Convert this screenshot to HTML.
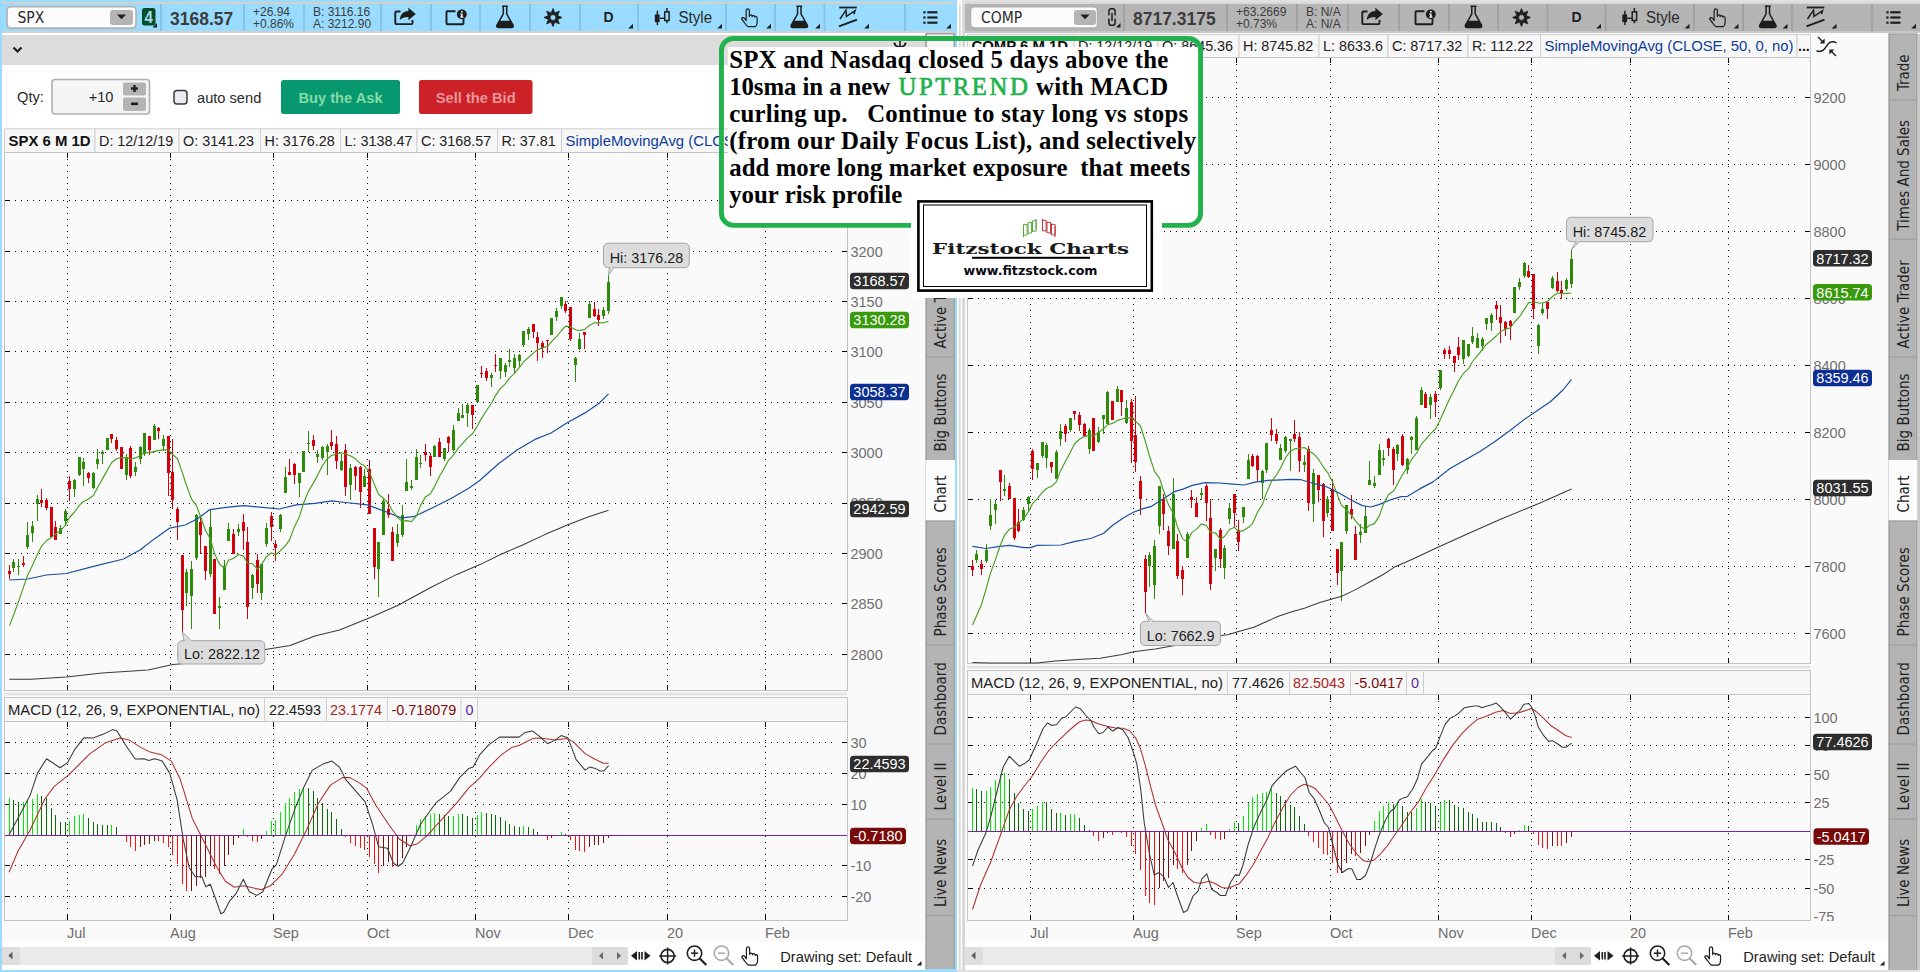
<!DOCTYPE html>
<html lang="en"><head><meta charset="utf-8"><title>SPX and COMP charts</title>
<style>
html,body{margin:0;padding:0;background:#fff;}
body{width:1920px;height:972px;overflow:hidden;}
svg{display:block;font-family:'Liberation Sans', Arial, sans-serif;}
</style></head><body>
<svg width="1920" height="972" viewBox="0 0 1920 972">
<rect x="0" y="0" width="1920" height="972" fill="#ffffff" />
<rect x="0" y="0" width="957" height="972" fill="#99dcff" />
<rect x="2" y="4" width="953" height="965" fill="#ffffff" />
<rect x="2" y="2" width="953" height="2" fill="#d4d0cc" />
<rect x="957" y="0" width="963" height="972" fill="#e1e1e1" />
<rect x="957" y="0" width="5" height="972" fill="#fbfbfb" />
<rect x="959" y="4" width="1.7" height="968" fill="#d9d9d9" />
<rect x="963" y="4" width="2" height="968" fill="#d6d6d6" />
<rect x="965" y="8" width="955" height="964" fill="#fafafa" />
<rect x="2" y="4" width="953" height="27" fill="#99dcff" />
<rect x="160" y="4" width="2" height="27" fill="#85c4e8" />
<rect x="243" y="4" width="2" height="27" fill="#85c4e8" />
<rect x="303" y="4" width="2" height="27" fill="#85c4e8" />
<rect x="380" y="4" width="2" height="27" fill="#85c4e8" />
<rect x="430" y="4" width="2" height="27" fill="#85c4e8" />
<rect x="479" y="4" width="2" height="27" fill="#85c4e8" />
<rect x="529" y="4" width="2" height="27" fill="#85c4e8" />
<rect x="579" y="4" width="2" height="27" fill="#85c4e8" />
<rect x="637" y="4" width="2" height="27" fill="#85c4e8" />
<rect x="725" y="4" width="2" height="27" fill="#85c4e8" />
<rect x="774" y="4" width="2" height="27" fill="#85c4e8" />
<rect x="823.5" y="4" width="2" height="27" fill="#85c4e8" />
<rect x="904" y="4" width="2" height="27" fill="#85c4e8" />
<rect x="7" y="6.7" width="129" height="21.4" rx="4" fill="#fcfcfc" stroke="#b2b0ae" stroke-width="1.6"/>
<rect x="110" y="10" width="23" height="15" rx="3" fill="#b4b4b4"/>
<path d="M116.9,14.6 h9.2 l-4.6,4.6 z" fill="#1e1e1e" stroke="none" stroke-width="1" />
<text x="17.5" y="23" font-size="15.5" fill="#2a2a2a" text-anchor="start" font-weight="normal" font-family="'DejaVu Sans Condensed', 'DejaVu Sans', 'Liberation Sans', sans-serif" >SPX</text>
<text x="170" y="25" font-size="18.5" fill="#3c3c3c" text-anchor="start" font-weight="bold"  textLength="63.2" lengthAdjust="spacingAndGlyphs">3168.57</text>
<text x="253" y="16" font-size="12" fill="#3c3c3c" text-anchor="start" font-weight="normal" >+26.94</text>
<text x="253" y="28" font-size="12" fill="#3c3c3c" text-anchor="start" font-weight="normal" >+0.86%</text>
<text x="313" y="16" font-size="12" fill="#3c3c3c" text-anchor="start" font-weight="normal" >B: 3116.16</text>
<text x="313" y="28" font-size="12" fill="#3c3c3c" text-anchor="start" font-weight="normal" >A: 3212.90</text>
<path d="M400.5,11.5 h-4.2 q-1,0 -1,1 v10.6 q0,1 1,1 h15.2 q1,0 1,-1 v-3.2" fill="none" stroke="#1e1e1e" stroke-width="1.9" stroke-linejoin="round"/>
<path d="M399.8,20.1 c0.4,-6.2 4.2,-9 8.6,-9 v-3.4 l7.4,6.3 l-7.4,6.3 v-3.4 c-4,0 -6.6,0.8 -8.6,3.2 z" fill="#1e1e1e" stroke="none" stroke-width="1" />
<path d="M455.5,11.3 h-8 q-1,0 -1,1 v11 q0,1 1,1 h15 q1,0 1,-1 v-5" fill="none" stroke="#1e1e1e" stroke-width="1.9" />
<circle cx="461.8" cy="14.3" r="4.9" fill="#1e1e1e"/>
<rect x="461.1" y="13.6" width="1.5" height="3.8" fill="#fff" />
<rect x="461.1" y="11.0" width="1.5" height="1.5" fill="#fff" />
<rect x="460.2" y="13.6" width="1" height="1" fill="#fff" />
<rect x="460.2" y="16.6" width="3.3" height="1" fill="#fff" />
<path d="M502,6.300000000000001 h6 M503.3,6.5 v7.4 l-6.3,11.2 q-1,2.4 1.8,2.4 h12.4 q2.8,0 1.8,-2.4 l-6.3,-11.2 v-7.4" fill="none" stroke="#1e1e1e" stroke-width="1.5" stroke-linejoin="round"/>
<path d="M499.4,20.8 h11.2 l2.6,4.6 q1,2.4 -1.8,2.4 h-12.8 q-2.8,0 -1.8,-2.4 z" fill="#1e1e1e" stroke="none" stroke-width="1" />
<path d="M557.62,19.41 L559.36,23.86 L554.91,22.12 L553.00,26.50 L551.09,22.12 L546.64,23.86 L548.38,19.41 L544.00,17.50 L548.38,15.59 L546.64,11.14 L551.09,12.88 L553.00,8.50 L554.91,12.88 L559.36,11.14 L557.62,15.59 L562.00,17.50 z M555.9,17.5 a2.9,2.9 0 1,0 -5.8,0 a2.9,2.9 0 1,0 5.8,0 z" fill="#1e1e1e" fill-rule="evenodd" stroke="#1e1e1e" stroke-width="0.8" stroke-linejoin="round"/>
<text x="608.5" y="22" font-size="14" fill="#1e1e1e" text-anchor="middle" font-weight="bold"  textLength="10.1" lengthAdjust="spacingAndGlyphs">D</text>
<rect x="654.8" y="14.5" width="4.8" height="7.6" fill="#1e1e1e" />
<line x1="657.4" y1="10.7" x2="657.4" y2="25.1" stroke="#1e1e1e" stroke-width="1.5" />
<line x1="659.6" y1="18.3" x2="664.6" y2="18.3" stroke="#1e1e1e" stroke-width="1.4" />
<rect x="664.7" y="11.9" width="4.4" height="8.6" fill="none" stroke="#1e1e1e" stroke-width="1.5"/>
<line x1="666.9" y1="7.9" x2="666.9" y2="11.9" stroke="#1e1e1e" stroke-width="1.5" />
<line x1="666.9" y1="20.5" x2="666.9" y2="23.3" stroke="#1e1e1e" stroke-width="1.5" />
<text x="678.5" y="23" font-size="16" fill="#2a2a2a" text-anchor="start" font-weight="normal"  textLength="33.6" lengthAdjust="spacingAndGlyphs">Style</text>
<path transform="translate(748.5,17.8) scale(0.94)" d="M-2.5,3 V-7.5 Q-2.5,-9.5 -0.8,-9.5 Q0.9,-9.5 0.9,-7.5 V-1.5 Q0.9,-3 2.4,-3 Q3.9,-3 3.9,-1.2 Q3.9,-2.4 5.3,-2.4 Q6.8,-2.4 6.8,-0.6 Q6.9,-1.6 8,-1.4 Q9.2,-1.2 9.2,0.6 V5 Q9.2,8 7.2,9.5 H-0.5 Q-2.5,8 -4.5,5 L-7,1.8 Q-7.8,0.4 -6.4,-0.2 Q-5.2,-0.6 -4.2,0.6 Z" fill="none" stroke="#1e1e1e" stroke-width="1.3" stroke-linejoin="round"/>
<path d="M796.3,6.300000000000001 h6 M797.5999999999999,6.5 v7.4 l-6.3,11.2 q-1,2.4 1.8,2.4 h12.4 q2.8,0 1.8,-2.4 l-6.3,-11.2 v-7.4" fill="none" stroke="#1e1e1e" stroke-width="1.5" stroke-linejoin="round"/>
<path d="M793.6999999999999,20.8 h11.2 l2.6,4.6 q1,2.4 -1.8,2.4 h-12.8 q-2.8,0 -1.8,-2.4 z" fill="#1e1e1e" stroke="none" stroke-width="1" />
<line x1="839.2" y1="7.5" x2="856.8" y2="7.5" stroke="#1e1e1e" stroke-width="1.8" />
<path d="M840,19.0 L846,10.2 L846.4,16.3 L855,10.7 L854,14.3" fill="none" stroke="#1e1e1e" stroke-width="1.5" stroke-linejoin="miter"/>
<line x1="839" y1="26.4" x2="857" y2="19.6" stroke="#1e1e1e" stroke-width="2" />
<rect x="923.3" y="11.200000000000001" width="2.3" height="2.2" fill="#1e1e1e" />
<rect x="927.3" y="11.200000000000001" width="10.2" height="2.2" fill="#1e1e1e" />
<rect x="923.3" y="16.4" width="2.3" height="2.2" fill="#1e1e1e" />
<rect x="927.3" y="16.4" width="10.2" height="2.2" fill="#1e1e1e" />
<rect x="923.3" y="21.599999999999998" width="2.3" height="2.2" fill="#1e1e1e" />
<rect x="927.3" y="21.599999999999998" width="10.2" height="2.2" fill="#1e1e1e" />
<rect x="142" y="8" width="13.5" height="17.5" rx="2.5" fill="#004d26"/>
<text x="148.8" y="23" font-size="16" fill="#a9d9ee" text-anchor="middle" font-weight="bold"  textLength="8.4" lengthAdjust="spacingAndGlyphs">4</text>
<path d="M157,27.5 v-4.5 l-4.5,4.5 z" fill="#1e1e1e" stroke="none" stroke-width="1" />
<path d="M633,28.5 v-4.8 l-4.8,4.8 z" fill="#1e1e1e" stroke="none" stroke-width="1" />
<path d="M722,28.5 v-4.8 l-4.8,4.8 z" fill="#1e1e1e" stroke="none" stroke-width="1" />
<path d="M771,28.5 v-4.8 l-4.8,4.8 z" fill="#1e1e1e" stroke="none" stroke-width="1" />
<path d="M820,28.5 v-4.8 l-4.8,4.8 z" fill="#1e1e1e" stroke="none" stroke-width="1" />
<path d="M869,28.5 v-4.8 l-4.8,4.8 z" fill="#1e1e1e" stroke="none" stroke-width="1" />
<path d="M951,28.5 v-4.8 l-4.8,4.8 z" fill="#1e1e1e" stroke="none" stroke-width="1" />
<rect x="2" y="31" width="953" height="2" fill="#d4d0cc" />
<rect x="2" y="33" width="953" height="2" fill="#ffffff" />
<rect x="2" y="35" width="953" height="30" fill="#dcdcdc" />
<path d="M13.5,47.5 l4,4 l4,-4" fill="none" stroke="#1e1e1e" stroke-width="2.2" />
<line x1="900" y1="37" x2="900" y2="47" stroke="#1e1e1e" stroke-width="1.6" />
<path d="M894.2,43.3 q1.2,3.6 5.8,3.6 q4.6,0 5.8,-3.6" fill="none" stroke="#1e1e1e" stroke-width="1.8" />
<path d="M893.5,42.6 l2.6,0.4 l-1.6,2.2 z M906.5,42.6 l-2.6,0.4 l1.6,2.2 z" fill="#1e1e1e" stroke="none" stroke-width="1" />
<rect x="965" y="2" width="955" height="2" fill="#d9d9d9" />
<rect x="965" y="4" width="955" height="27" fill="#b5b5b5" />
<rect x="1123" y="4" width="2" height="27" fill="#a2a2a2" />
<rect x="1226" y="4" width="2" height="27" fill="#a2a2a2" />
<rect x="1296" y="4" width="2" height="27" fill="#a2a2a2" />
<rect x="1347" y="4" width="2" height="27" fill="#a2a2a2" />
<rect x="1398" y="4" width="2" height="27" fill="#a2a2a2" />
<rect x="1448" y="4" width="2" height="27" fill="#a2a2a2" />
<rect x="1497" y="4" width="2" height="27" fill="#a2a2a2" />
<rect x="1546.5" y="4" width="2" height="27" fill="#a2a2a2" />
<rect x="1604.5" y="4" width="2" height="27" fill="#a2a2a2" />
<rect x="1693" y="4" width="2" height="27" fill="#a2a2a2" />
<rect x="1742" y="4" width="2" height="27" fill="#a2a2a2" />
<rect x="1791" y="4" width="2" height="27" fill="#a2a2a2" />
<rect x="1871" y="4" width="2" height="27" fill="#a2a2a2" />
<rect x="970.5" y="6.7" width="127.0" height="21.4" rx="4" fill="#fcfcfc" stroke="#b2b0ae" stroke-width="1.6"/>
<rect x="1074" y="10" width="22" height="15" rx="3" fill="#b4b4b4"/>
<path d="M1080.4,14.6 h9.2 l-4.6,4.6 z" fill="#1e1e1e" stroke="none" stroke-width="1" />
<text x="981.0" y="23" font-size="15.5" fill="#2a2a2a" text-anchor="start" font-weight="normal" font-family="'DejaVu Sans Condensed', 'DejaVu Sans', 'Liberation Sans', sans-serif" >COMP</text>
<text x="1133" y="25" font-size="18.5" fill="#3c3c3c" text-anchor="start" font-weight="bold"  textLength="82.6" lengthAdjust="spacingAndGlyphs">8717.3175</text>
<text x="1236" y="16" font-size="12" fill="#3c3c3c" text-anchor="start" font-weight="normal" >+63.2669</text>
<text x="1236" y="28" font-size="12" fill="#3c3c3c" text-anchor="start" font-weight="normal" >+0.73%</text>
<text x="1306" y="16" font-size="12" fill="#3c3c3c" text-anchor="start" font-weight="normal" >B: N/A</text>
<text x="1306" y="28" font-size="12" fill="#3c3c3c" text-anchor="start" font-weight="normal" >A: N/A</text>
<path d="M1367.5,11.5 h-4.2 q-1,0 -1,1 v10.6 q0,1 1,1 h15.2 q1,0 1,-1 v-3.2" fill="none" stroke="#1e1e1e" stroke-width="1.9" stroke-linejoin="round"/>
<path d="M1366.8,20.1 c0.4,-6.2 4.2,-9 8.6,-9 v-3.4 l7.4,6.3 l-7.4,6.3 v-3.4 c-4,0 -6.6,0.8 -8.6,3.2 z" fill="#1e1e1e" stroke="none" stroke-width="1" />
<path d="M1424.5,11.3 h-8 q-1,0 -1,1 v11 q0,1 1,1 h15 q1,0 1,-1 v-5" fill="none" stroke="#1e1e1e" stroke-width="1.9" />
<circle cx="1430.8" cy="14.3" r="4.9" fill="#1e1e1e"/>
<rect x="1430.1" y="13.6" width="1.5" height="3.8" fill="#fff" />
<rect x="1430.1" y="11.0" width="1.5" height="1.5" fill="#fff" />
<rect x="1429.2" y="13.6" width="1" height="1" fill="#fff" />
<rect x="1429.2" y="16.6" width="3.3" height="1" fill="#fff" />
<path d="M1470.5,6.300000000000001 h6 M1471.8,6.5 v7.4 l-6.3,11.2 q-1,2.4 1.8,2.4 h12.4 q2.8,0 1.8,-2.4 l-6.3,-11.2 v-7.4" fill="none" stroke="#1e1e1e" stroke-width="1.5" stroke-linejoin="round"/>
<path d="M1467.9,20.8 h11.2 l2.6,4.6 q1,2.4 -1.8,2.4 h-12.8 q-2.8,0 -1.8,-2.4 z" fill="#1e1e1e" stroke="none" stroke-width="1" />
<path d="M1526.12,19.41 L1527.86,23.86 L1523.41,22.12 L1521.50,26.50 L1519.59,22.12 L1515.14,23.86 L1516.88,19.41 L1512.50,17.50 L1516.88,15.59 L1515.14,11.14 L1519.59,12.88 L1521.50,8.50 L1523.41,12.88 L1527.86,11.14 L1526.12,15.59 L1530.50,17.50 z M1524.4,17.5 a2.9,2.9 0 1,0 -5.8,0 a2.9,2.9 0 1,0 5.8,0 z" fill="#1e1e1e" fill-rule="evenodd" stroke="#1e1e1e" stroke-width="0.8" stroke-linejoin="round"/>
<text x="1576.5" y="22" font-size="14" fill="#1e1e1e" text-anchor="middle" font-weight="bold"  textLength="10.1" lengthAdjust="spacingAndGlyphs">D</text>
<rect x="1622.3" y="14.5" width="4.8" height="7.6" fill="#1e1e1e" />
<line x1="1624.9" y1="10.7" x2="1624.9" y2="25.1" stroke="#1e1e1e" stroke-width="1.5" />
<line x1="1627.1" y1="18.3" x2="1632.1" y2="18.3" stroke="#1e1e1e" stroke-width="1.4" />
<rect x="1632.2" y="11.9" width="4.4" height="8.6" fill="none" stroke="#1e1e1e" stroke-width="1.5"/>
<line x1="1634.4" y1="7.9" x2="1634.4" y2="11.9" stroke="#1e1e1e" stroke-width="1.5" />
<line x1="1634.4" y1="20.5" x2="1634.4" y2="23.3" stroke="#1e1e1e" stroke-width="1.5" />
<text x="1646.0" y="23" font-size="16" fill="#2a2a2a" text-anchor="start" font-weight="normal"  textLength="33.6" lengthAdjust="spacingAndGlyphs">Style</text>
<path transform="translate(1716.5,17.8) scale(0.94)" d="M-2.5,3 V-7.5 Q-2.5,-9.5 -0.8,-9.5 Q0.9,-9.5 0.9,-7.5 V-1.5 Q0.9,-3 2.4,-3 Q3.9,-3 3.9,-1.2 Q3.9,-2.4 5.3,-2.4 Q6.8,-2.4 6.8,-0.6 Q6.9,-1.6 8,-1.4 Q9.2,-1.2 9.2,0.6 V5 Q9.2,8 7.2,9.5 H-0.5 Q-2.5,8 -4.5,5 L-7,1.8 Q-7.8,0.4 -6.4,-0.2 Q-5.2,-0.6 -4.2,0.6 Z" fill="none" stroke="#1e1e1e" stroke-width="1.3" stroke-linejoin="round"/>
<path d="M1764.8,6.300000000000001 h6 M1766.1,6.5 v7.4 l-6.3,11.2 q-1,2.4 1.8,2.4 h12.4 q2.8,0 1.8,-2.4 l-6.3,-11.2 v-7.4" fill="none" stroke="#1e1e1e" stroke-width="1.5" stroke-linejoin="round"/>
<path d="M1762.2,20.8 h11.2 l2.6,4.6 q1,2.4 -1.8,2.4 h-12.8 q-2.8,0 -1.8,-2.4 z" fill="#1e1e1e" stroke="none" stroke-width="1" />
<line x1="1806.7" y1="7.5" x2="1824.3" y2="7.5" stroke="#1e1e1e" stroke-width="1.8" />
<path d="M1807.5,19.0 L1813.5,10.2 L1813.9,16.3 L1822.5,10.7 L1821.5,14.3" fill="none" stroke="#1e1e1e" stroke-width="1.5" stroke-linejoin="miter"/>
<line x1="1806.5" y1="26.4" x2="1824.5" y2="19.6" stroke="#1e1e1e" stroke-width="2" />
<rect x="1886.3" y="11.200000000000001" width="2.3" height="2.2" fill="#1e1e1e" />
<rect x="1890.3" y="11.200000000000001" width="10.2" height="2.2" fill="#1e1e1e" />
<rect x="1886.3" y="16.4" width="2.3" height="2.2" fill="#1e1e1e" />
<rect x="1890.3" y="16.4" width="10.2" height="2.2" fill="#1e1e1e" />
<rect x="1886.3" y="21.599999999999998" width="2.3" height="2.2" fill="#1e1e1e" />
<rect x="1890.3" y="21.599999999999998" width="10.2" height="2.2" fill="#1e1e1e" />
<rect x="1108.9" y="8.7" width="6.2" height="16.6" rx="2.6" fill="none" stroke="#1e1e1e" stroke-width="1.5"/>
<rect x="1107.5" y="15.4" width="2.6" height="3.2" fill="#b5b5b5" />
<rect x="1113.9" y="15.4" width="2.6" height="3.2" fill="#b5b5b5" />
<line x1="1112" y1="13" x2="1112" y2="21" stroke="#1e1e1e" stroke-width="1.5" />
<path d="M1120.5,27.5 v-4.5 l-4.5,4.5 z" fill="#1e1e1e" stroke="none" stroke-width="1" />
<path d="M1601,28.5 v-4.8 l-4.8,4.8 z" fill="#1e1e1e" stroke="none" stroke-width="1" />
<path d="M1689.5,28.5 v-4.8 l-4.8,4.8 z" fill="#1e1e1e" stroke="none" stroke-width="1" />
<path d="M1738.5,28.5 v-4.8 l-4.8,4.8 z" fill="#1e1e1e" stroke="none" stroke-width="1" />
<path d="M1787.5,28.5 v-4.8 l-4.8,4.8 z" fill="#1e1e1e" stroke="none" stroke-width="1" />
<path d="M1836.5,28.5 v-4.8 l-4.8,4.8 z" fill="#1e1e1e" stroke="none" stroke-width="1" />
<path d="M1916,28.5 v-4.8 l-4.8,4.8 z" fill="#1e1e1e" stroke="none" stroke-width="1" />
<rect x="965" y="31" width="955" height="2" fill="#c6c6c6" />
<text x="17" y="102" font-size="15.5" fill="#2a2a2a" text-anchor="start" font-weight="normal"  textLength="26.9" lengthAdjust="spacingAndGlyphs">Qty:</text>
<rect x="52" y="79.5" width="97.5" height="34.5" rx="3" fill="#f5f5f5" stroke="#b2b0ae" stroke-width="1.6"/>
<text x="113.5" y="102" font-size="15.5" fill="#2a2a2a" text-anchor="end" font-weight="normal"  textLength="24.8" lengthAdjust="spacingAndGlyphs">+10</text>
<rect x="123" y="82.5" width="23" height="13" rx="2" fill="#b4b4b4"/>
<rect x="123" y="97.5" width="23" height="13.5" rx="2" fill="#b4b4b4"/>
<rect x="131" y="87.3" width="7" height="2.4" fill="#1e1e1e" />
<rect x="133.3" y="85" width="2.4" height="7" fill="#1e1e1e" />
<rect x="131" y="102.5" width="7" height="2.6" fill="#1e1e1e" />
<rect x="174" y="90.5" width="13" height="13.5" rx="3" fill="#ececf0" stroke="#3a3a3a" stroke-width="1.5"/>
<text x="197" y="103" font-size="15.5" fill="#2a2a2a" text-anchor="start" font-weight="normal"  textLength="64.3" lengthAdjust="spacingAndGlyphs">auto send</text>
<rect x="281" y="80" width="119" height="34" rx="2.5" fill="#08986f"/>
<text x="340.5" y="103" font-size="15.5" fill="#86dba8" text-anchor="middle" font-weight="bold"  textLength="84.1" lengthAdjust="spacingAndGlyphs">Buy the Ask</text>
<rect x="419" y="80" width="113.5" height="34" rx="2.5" fill="#cc2127"/>
<text x="475.7" y="103" font-size="15.5" fill="#e8969a" text-anchor="middle" font-weight="bold"  textLength="79.8" lengthAdjust="spacingAndGlyphs">Sell the Bid</text>
<rect x="2" y="129" width="923.5" height="813" fill="#fafafa" />
<rect x="4.5" y="128.8" width="90.5" height="23.69999999999999" fill="#f7f7f7" stroke="#cfcfcf" stroke-width="1"/>
<text x="8.5" y="146.3" font-size="15.2" fill="#111" text-anchor="start" font-weight="bold"  textLength="82.0" lengthAdjust="spacingAndGlyphs">SPX 6 M 1D</text>
<rect x="95" y="128.8" width="84" height="23.69999999999999" fill="#f7f7f7" stroke="#cfcfcf" stroke-width="1"/>
<text x="99" y="146.3" font-size="15.2" fill="#222" text-anchor="start" font-weight="normal"  textLength="74.3" lengthAdjust="spacingAndGlyphs">D: 12/12/19</text>
<rect x="179" y="128.8" width="81.5" height="23.69999999999999" fill="#f7f7f7" stroke="#cfcfcf" stroke-width="1"/>
<text x="183" y="146.3" font-size="15.2" fill="#222" text-anchor="start" font-weight="normal"  textLength="71.1" lengthAdjust="spacingAndGlyphs">O: 3141.23</text>
<rect x="260.5" y="128.8" width="80.0" height="23.69999999999999" fill="#f7f7f7" stroke="#cfcfcf" stroke-width="1"/>
<text x="264.5" y="146.3" font-size="15.2" fill="#222" text-anchor="start" font-weight="normal"  textLength="70.3" lengthAdjust="spacingAndGlyphs">H: 3176.28</text>
<rect x="340.5" y="128.8" width="76.5" height="23.69999999999999" fill="#f7f7f7" stroke="#cfcfcf" stroke-width="1"/>
<text x="344.5" y="146.3" font-size="15.2" fill="#222" text-anchor="start" font-weight="normal"  textLength="67.9" lengthAdjust="spacingAndGlyphs">L: 3138.47</text>
<rect x="417" y="128.8" width="80.5" height="23.69999999999999" fill="#f7f7f7" stroke="#cfcfcf" stroke-width="1"/>
<text x="421" y="146.3" font-size="15.2" fill="#222" text-anchor="start" font-weight="normal"  textLength="70.3" lengthAdjust="spacingAndGlyphs">C: 3168.57</text>
<rect x="497.5" y="128.8" width="64.0" height="23.69999999999999" fill="#f7f7f7" stroke="#cfcfcf" stroke-width="1"/>
<text x="501.5" y="146.3" font-size="15.2" fill="#222" text-anchor="start" font-weight="normal"  textLength="54.3" lengthAdjust="spacingAndGlyphs">R: 37.81</text>
<rect x="561.5" y="128.8" width="258.5" height="23.69999999999999" fill="#f7f7f7" stroke="#cfcfcf" stroke-width="1"/>
<text x="565.5" y="146.3" font-size="15.2" fill="#0d3c9b" text-anchor="start" font-weight="normal"  textLength="249.0" lengthAdjust="spacingAndGlyphs">SimpleMovingAvg (CLOSE, 50, 0, no)</text>
<rect x="967.5" y="34.5" width="106.5" height="23.0" fill="#f7f7f7" stroke="#cfcfcf" stroke-width="1"/>
<text x="971.5" y="51.3" font-size="15.2" fill="#111" text-anchor="start" font-weight="bold"  textLength="96.6" lengthAdjust="spacingAndGlyphs">COMP 6 M 1D</text>
<rect x="1074" y="34.5" width="84" height="23.0" fill="#f7f7f7" stroke="#cfcfcf" stroke-width="1"/>
<text x="1078" y="51.3" font-size="15.2" fill="#222" text-anchor="start" font-weight="normal"  textLength="74.3" lengthAdjust="spacingAndGlyphs">D: 12/12/19</text>
<rect x="1158" y="34.5" width="81" height="23.0" fill="#f7f7f7" stroke="#cfcfcf" stroke-width="1"/>
<text x="1162" y="51.3" font-size="15.2" fill="#222" text-anchor="start" font-weight="normal"  textLength="71.1" lengthAdjust="spacingAndGlyphs">O: 8645.36</text>
<rect x="1239" y="34.5" width="80" height="23.0" fill="#f7f7f7" stroke="#cfcfcf" stroke-width="1"/>
<text x="1243" y="51.3" font-size="15.2" fill="#222" text-anchor="start" font-weight="normal"  textLength="70.3" lengthAdjust="spacingAndGlyphs">H: 8745.82</text>
<rect x="1319" y="34.5" width="69" height="23.0" fill="#f7f7f7" stroke="#cfcfcf" stroke-width="1"/>
<text x="1323" y="51.3" font-size="15.2" fill="#222" text-anchor="start" font-weight="normal"  textLength="59.9" lengthAdjust="spacingAndGlyphs">L: 8633.6</text>
<rect x="1388" y="34.5" width="80" height="23.0" fill="#f7f7f7" stroke="#cfcfcf" stroke-width="1"/>
<text x="1392" y="51.3" font-size="15.2" fill="#222" text-anchor="start" font-weight="normal"  textLength="70.3" lengthAdjust="spacingAndGlyphs">C: 8717.32</text>
<rect x="1468" y="34.5" width="72.5" height="23.0" fill="#f7f7f7" stroke="#cfcfcf" stroke-width="1"/>
<text x="1472" y="51.3" font-size="15.2" fill="#222" text-anchor="start" font-weight="normal"  textLength="61.2" lengthAdjust="spacingAndGlyphs">R: 112.22</text>
<rect x="1540.5" y="34.5" width="256.5" height="23.0" fill="#f7f7f7" stroke="#cfcfcf" stroke-width="1"/>
<text x="1544.5" y="51.3" font-size="15.2" fill="#0d3c9b" text-anchor="start" font-weight="normal"  textLength="249.0" lengthAdjust="spacingAndGlyphs">SimpleMovingAvg (CLOSE, 50, 0, no)</text>
<rect x="1797" y="34.5" width="13.5" height="23.0" fill="#f7f7f7" stroke="#cfcfcf" stroke-width="1"/>
<text x="1801" y="51.3" font-size="15.2" fill="#222" text-anchor="start" font-weight="normal" ></text>
<text x="1798" y="51" font-size="15" fill="#111" text-anchor="start" font-weight="bold"  textLength="11.8" lengthAdjust="spacingAndGlyphs">...</text>
<rect x="4.5" y="152.5" width="843.0" height="538.0" fill="#fafafa" stroke="#c4c4c4" stroke-width="1"/>
<path d="M67.5,159.0 V684.5 M170.5,159.0 V684.5 M273.5,159.0 V684.5 M367.5,159.0 V684.5 M475.5,159.0 V684.5 M568.5,159.0 V684.5 M667.5,159.0 V684.5 M765.5,159.0 V684.5" stroke="#000" stroke-width="1" stroke-dasharray="1 5" fill="none" shape-rendering="crispEdges"/>
<path d="M15.0,200.5 H833 M15.0,251.5 H833 M15.0,301.5 H833 M15.0,351.5 H833 M15.0,402.5 H833 M15.0,452.5 H833 M15.0,503.5 H833 M15.0,553.5 H833 M15.0,603.5 H833 M15.0,654.5 H833" stroke="#000" stroke-width="1" stroke-dasharray="1 5" fill="none" shape-rendering="crispEdges"/>
<path d="M67.5,153.0 v5 M67.5,690.0 v-5 M170.5,153.0 v5 M170.5,690.0 v-5 M273.5,153.0 v5 M273.5,690.0 v-5 M367.5,153.0 v5 M367.5,690.0 v-5 M475.5,153.0 v5 M475.5,690.0 v-5 M568.5,153.0 v5 M568.5,690.0 v-5 M667.5,153.0 v5 M667.5,690.0 v-5 M765.5,153.0 v5 M765.5,690.0 v-5 M5.0,200.5 h5 M847.0,200.5 h-5 M5.0,251.5 h5 M847.0,251.5 h-5 M5.0,301.5 h5 M847.0,301.5 h-5 M5.0,351.5 h5 M847.0,351.5 h-5 M5.0,402.5 h5 M847.0,402.5 h-5 M5.0,452.5 h5 M847.0,452.5 h-5 M5.0,503.5 h5 M847.0,503.5 h-5 M5.0,553.5 h5 M847.0,553.5 h-5 M5.0,603.5 h5 M847.0,603.5 h-5 M5.0,654.5 h5 M847.0,654.5 h-5" stroke="#000" stroke-width="1" fill="none" shape-rendering="crispEdges"/>
<rect x="4" y="692.5" width="843" height="3" fill="#e4e4e4" />
<rect x="4.5" y="697.5" width="843" height="24" fill="#f7f7f7" stroke="#c4c4c4" stroke-width="1"/>
<rect x="4.5" y="721.5" width="843.0" height="199.0" fill="#fafafa" stroke="#c4c4c4" stroke-width="1"/>
<path d="M67.5,728.0 V914.5 M170.5,728.0 V914.5 M273.5,728.0 V914.5 M367.5,728.0 V914.5 M475.5,728.0 V914.5 M568.5,728.0 V914.5 M667.5,728.0 V914.5 M765.5,728.0 V914.5" stroke="#000" stroke-width="1" stroke-dasharray="1 5" fill="none" shape-rendering="crispEdges"/>
<path d="M15.0,742.5 H833 M15.0,773.5 H833 M15.0,804.5 H833 M15.0,865.5 H833 M15.0,896.5 H833" stroke="#000" stroke-width="1" stroke-dasharray="1 5" fill="none" shape-rendering="crispEdges"/>
<path d="M67.5,722.0 v5 M67.5,920.0 v-5 M170.5,722.0 v5 M170.5,920.0 v-5 M273.5,722.0 v5 M273.5,920.0 v-5 M367.5,722.0 v5 M367.5,920.0 v-5 M475.5,722.0 v5 M475.5,920.0 v-5 M568.5,722.0 v5 M568.5,920.0 v-5 M667.5,722.0 v5 M667.5,920.0 v-5 M765.5,722.0 v5 M765.5,920.0 v-5 M5.0,742.5 h5 M847.0,742.5 h-5 M5.0,773.5 h5 M847.0,773.5 h-5 M5.0,804.5 h5 M847.0,804.5 h-5 M5.0,865.5 h5 M847.0,865.5 h-5 M5.0,896.5 h5 M847.0,896.5 h-5" stroke="#000" stroke-width="1" fill="none" shape-rendering="crispEdges"/>
<rect x="967.5" y="57.5" width="843.0" height="606.0" fill="#fafafa" stroke="#c4c4c4" stroke-width="1"/>
<path d="M1030.5,64.0 V657.5 M1133.5,64.0 V657.5 M1236.5,64.0 V657.5 M1330.5,64.0 V657.5 M1438.5,64.0 V657.5 M1531.5,64.0 V657.5 M1630.5,64.0 V657.5 M1728.5,64.0 V657.5" stroke="#000" stroke-width="1" stroke-dasharray="1 5" fill="none" shape-rendering="crispEdges"/>
<path d="M978.0,97.5 H1796 M978.0,164.5 H1796 M978.0,231.5 H1796 M978.0,298.5 H1796 M978.0,365.5 H1796 M978.0,432.5 H1796 M978.0,499.5 H1796 M978.0,566.5 H1796 M978.0,633.5 H1796" stroke="#000" stroke-width="1" stroke-dasharray="1 5" fill="none" shape-rendering="crispEdges"/>
<path d="M1030.5,58.0 v5 M1030.5,663.0 v-5 M1133.5,58.0 v5 M1133.5,663.0 v-5 M1236.5,58.0 v5 M1236.5,663.0 v-5 M1330.5,58.0 v5 M1330.5,663.0 v-5 M1438.5,58.0 v5 M1438.5,663.0 v-5 M1531.5,58.0 v5 M1531.5,663.0 v-5 M1630.5,58.0 v5 M1630.5,663.0 v-5 M1728.5,58.0 v5 M1728.5,663.0 v-5 M968.0,97.5 h5 M1810.0,97.5 h-5 M968.0,164.5 h5 M1810.0,164.5 h-5 M968.0,231.5 h5 M1810.0,231.5 h-5 M968.0,298.5 h5 M1810.0,298.5 h-5 M968.0,365.5 h5 M1810.0,365.5 h-5 M968.0,432.5 h5 M1810.0,432.5 h-5 M968.0,499.5 h5 M1810.0,499.5 h-5 M968.0,566.5 h5 M1810.0,566.5 h-5 M968.0,633.5 h5 M1810.0,633.5 h-5" stroke="#000" stroke-width="1" fill="none" shape-rendering="crispEdges"/>
<rect x="967" y="665.5" width="843" height="3" fill="#e4e4e4" />
<rect x="967.5" y="670.5" width="843" height="24" fill="#f7f7f7" stroke="#c4c4c4" stroke-width="1"/>
<rect x="967.5" y="694.5" width="843.0" height="226.0" fill="#fafafa" stroke="#c4c4c4" stroke-width="1"/>
<path d="M1030.5,701.0 V914.5 M1133.5,701.0 V914.5 M1236.5,701.0 V914.5 M1330.5,701.0 V914.5 M1438.5,701.0 V914.5 M1531.5,701.0 V914.5 M1630.5,701.0 V914.5 M1728.5,701.0 V914.5" stroke="#000" stroke-width="1" stroke-dasharray="1 5" fill="none" shape-rendering="crispEdges"/>
<path d="M978.0,717.5 H1796 M978.0,745.5 H1796 M978.0,774.5 H1796 M978.0,802.5 H1796 M978.0,859.5 H1796 M978.0,888.5 H1796" stroke="#000" stroke-width="1" stroke-dasharray="1 5" fill="none" shape-rendering="crispEdges"/>
<path d="M1030.5,695.0 v5 M1030.5,920.0 v-5 M1133.5,695.0 v5 M1133.5,920.0 v-5 M1236.5,695.0 v5 M1236.5,920.0 v-5 M1330.5,695.0 v5 M1330.5,920.0 v-5 M1438.5,695.0 v5 M1438.5,920.0 v-5 M1531.5,695.0 v5 M1531.5,920.0 v-5 M1630.5,695.0 v5 M1630.5,920.0 v-5 M1728.5,695.0 v5 M1728.5,920.0 v-5 M968.0,717.5 h5 M1810.0,717.5 h-5 M968.0,745.5 h5 M1810.0,745.5 h-5 M968.0,774.5 h5 M1810.0,774.5 h-5 M968.0,802.5 h5 M1810.0,802.5 h-5 M968.0,859.5 h5 M1810.0,859.5 h-5 M968.0,888.5 h5 M1810.0,888.5 h-5" stroke="#000" stroke-width="1" fill="none" shape-rendering="crispEdges"/>
<path d="M13.5,559V572M18.5,559V575M27.5,522V549M32.5,521V542M37.5,495V521M60.5,525V534M65.5,509V526M74.5,479V497M79.5,457V476M83.5,458V486M93.5,472V489M97.5,449V469M102.5,450V464M107.5,438V450M126.5,454V480M135.5,462V476M140.5,446V464M144.5,433V456M154.5,424V440M163.5,435V451M186.5,569V606M191.5,561V629M196.5,514V560M210.5,510V577M219.5,597V629M224.5,560V590M228.5,523V541M238.5,524V536M252.5,574V599M261.5,564V600M266.5,523V547M280.5,514V532M285.5,467V493M299.5,473V497M303.5,451V472M308.5,431V452M317.5,450V463M322.5,446V460M327.5,444V475M341.5,454V471M350.5,464V500M364.5,469V487M378.5,542V597M383.5,499V535M397.5,524V547M402.5,505V537M406.5,459V491M411.5,480V490M416.5,449V480M420.5,455V468M434.5,445V457M444.5,448V461M453.5,425V451M458.5,408V421M462.5,404V418M467.5,403V427M477.5,385V402M491.5,373V387M500.5,358V379M505.5,363V377M509.5,349V367M514.5,354V373M519.5,354V367M523.5,331V347M528.5,327V340M551.5,318V335M556.5,308V321M561.5,297V309M575.5,357V382M579.5,333V350M589.5,301V318M603.5,307V319M608.5,276V314" stroke="#2e8b0a" stroke-width="1" fill="none" shape-rendering="crispEdges"/>
<path d="M12.0,562h3V568h-3zM17.0,566h3V567h-3zM26.0,535h3V547h-3zM31.0,526h3V533h-3zM36.0,499h3V504h-3zM59.0,528h3V534h-3zM64.0,511h3V521h-3zM73.0,480h3V489h-3zM78.0,457h3V475h-3zM82.0,462h3V469h-3zM92.0,473h3V488h-3zM96.0,459h3V464h-3zM101.0,452h3V454h-3zM106.0,438h3V450h-3zM125.0,457h3V475h-3zM134.0,467h3V472h-3zM139.0,447h3V459h-3zM143.0,433h3V454h-3zM153.0,426h3V440h-3zM162.0,439h3V446h-3zM185.0,572h3V593h-3zM190.0,569h3V596h-3zM195.0,515h3V558h-3zM209.0,527h3V574h-3zM218.0,606h3V608h-3zM223.0,566h3V590h-3zM227.0,529h3V541h-3zM237.0,529h3V532h-3zM251.0,575h3V588h-3zM260.0,564h3V593h-3zM265.0,528h3V544h-3zM279.0,515h3V529h-3zM284.0,477h3V493h-3zM298.0,473h3V483h-3zM302.0,451h3V472h-3zM307.0,443h3V444h-3zM316.0,454h3V457h-3zM321.0,447h3V458h-3zM326.0,446h3V452h-3zM340.0,461h3V470h-3zM349.0,468h3V485h-3zM363.0,476h3V487h-3zM377.0,542h3V569h-3zM382.0,501h3V535h-3zM396.0,534h3V543h-3zM401.0,515h3V535h-3zM405.0,482h3V491h-3zM410.0,486h3V488h-3zM415.0,457h3V480h-3zM419.0,463h3V464h-3zM433.0,446h3V457h-3zM443.0,448h3V459h-3zM452.0,430h3V450h-3zM457.0,413h3V421h-3zM461.0,415h3V418h-3zM466.0,405h3V413h-3zM476.0,385h3V402h-3zM490.0,375h3V378h-3zM499.0,358h3V371h-3zM504.0,365h3V372h-3zM508.0,360h3V362h-3zM513.0,358h3V368h-3zM518.0,355h3V361h-3zM522.0,331h3V345h-3zM527.0,329h3V334h-3zM550.0,318h3V335h-3zM555.0,311h3V317h-3zM560.0,297h3V306h-3zM574.0,358h3V365h-3zM578.0,339h3V349h-3zM588.0,304h3V318h-3zM602.0,310h3V316h-3zM607.0,282h3V311h-3z" fill="#2e8b0a" shape-rendering="crispEdges"/>
<path d="M9.5,565V579M23.5,556V567M41.5,489V507M46.5,498V510M51.5,507V537M55.5,521V540M69.5,476V501M88.5,472V483M111.5,434V443M116.5,437V451M121.5,447V469M130.5,446V478M149.5,436V455M158.5,427V439M168.5,436V496M172.5,439V509M177.5,507V540M182.5,555V632M200.5,516V554M205.5,546V580M214.5,559V614M233.5,529V554M243.5,514V550M247.5,527V619M257.5,554V593M271.5,512V541M275.5,540V561M289.5,459V473M294.5,463V484M313.5,435V450M331.5,430V450M336.5,436V469M345.5,444V496M355.5,466V490M360.5,466V508M369.5,460V514M374.5,528V579M388.5,494V518M392.5,527V561M425.5,444V461M430.5,453V476M439.5,438V457M448.5,436V452M472.5,405V429M481.5,366V378M486.5,368V381M495.5,354V372M533.5,324V338M537.5,332V361M542.5,341V358M547.5,340V353M565.5,301V313M570.5,307V341M584.5,332V349M594.5,302V317M598.5,309V326" stroke="#d4000c" stroke-width="1" fill="none" shape-rendering="crispEdges"/>
<path d="M8.0,571h3V574h-3zM22.0,563h3V565h-3zM40.0,500h3V503h-3zM45.0,500h3V508h-3zM50.0,507h3V537h-3zM54.0,527h3V540h-3zM68.0,481h3V489h-3zM87.0,473h3V478h-3zM110.0,434h3V439h-3zM115.0,440h3V449h-3zM120.0,447h3V469h-3zM129.0,448h3V476h-3zM148.0,436h3V450h-3zM157.0,428h3V431h-3zM167.0,436h3V473h-3zM171.0,472h3V500h-3zM176.0,509h3V522h-3zM181.0,555h3V610h-3zM199.0,522h3V535h-3zM204.0,546h3V571h-3zM213.0,559h3V614h-3zM232.0,534h3V554h-3zM242.0,522h3V531h-3zM246.0,542h3V607h-3zM256.0,560h3V584h-3zM270.0,516h3V527h-3zM274.0,544h3V548h-3zM288.0,472h3V475h-3zM293.0,464h3V475h-3zM312.0,440h3V446h-3zM330.0,442h3V446h-3zM335.0,444h3V461h-3zM344.0,450h3V487h-3zM354.0,467h3V476h-3zM359.0,467h3V492h-3zM368.0,469h3V514h-3zM373.0,528h3V567h-3zM387.0,509h3V515h-3zM391.0,532h3V561h-3zM424.0,452h3V455h-3zM429.0,456h3V467h-3zM438.0,442h3V457h-3zM447.0,437h3V443h-3zM471.0,405h3V415h-3zM480.0,373h3V374h-3zM485.0,371h3V378h-3zM494.0,365h3V366h-3zM532.0,324h3V332h-3zM536.0,337h3V343h-3zM541.0,343h3V348h-3zM546.0,340h3V341h-3zM564.0,304h3V311h-3zM569.0,307h3V339h-3zM583.0,332h3V335h-3zM593.0,309h3V316h-3zM597.0,315h3V320h-3z" fill="#d4000c" shape-rendering="crispEdges"/>
<path d="M9.3,679.3 L30.9,679.3 L66.4,676.9 L101.9,673.1 L148.1,670.1 L172.8,664.5 L200.6,662.3 L265.4,649.4 L290.1,645.4 L314.8,636.1 L339.5,629.9 L370.4,617.6 L398.1,605.2 L432.1,586.7 L456.8,574.4 L480,564.6 L501.6,554 L523.2,544.8 L544.8,534.6 L568,524.7 L588,517 L608.5,510.2" stroke="#3a3a3a" stroke-width="1.05" fill="none" stroke-linejoin="round"/>
<path d="M9.3,580 L27.8,579 L46.3,575 L66.4,573.5 L92.6,566.7 L123.5,559 L140.4,549.7 L154.3,538.9 L169.8,528.1 L185.2,525 L197.5,518.8 L209.9,509.6 L228.4,507.1 L243.8,505.6 L262.3,507.4 L279.3,509 L296.3,504.9 L314.8,503.4 L331.8,500.9 L345.7,502.5 L367.3,504.9 L385.8,511.7 L401.2,517.9 L413.6,516.7 L432.1,508 L450.6,498.8 L469.1,488 L480,480.3 L498.5,463.8 L517,450 L535.6,439.1 L551,433 L568,422.2 L585,412.9 L598.8,403.6 L608.5,393.8" stroke="#1a4fa3" stroke-width="1.2" fill="none" stroke-linejoin="round"/>
<path d="M9.5,625.6 L13.5,615.3 L18.5,601.6 L23.5,587.1 L27.5,575.5 L32.5,565.3 L37.5,554.1 L41.5,546.4 L46.5,540.5 L51.5,537.4 L55.5,534.0 L60.5,530.6 L65.5,525.1 L69.5,517.5 L74.5,512.0 L79.5,505.1 L83.5,501.5 L88.5,499.0 L93.5,495.5 L97.5,487.7 L102.5,478.9 L107.5,469.9 L111.5,462.7 L116.5,458.7 L121.5,457.6 L126.5,457.6 L130.5,459.0 L135.5,457.9 L140.5,455.4 L144.5,452.8 L149.5,452.6 L154.5,451.4 L158.5,450.6 L163.5,449.6 L168.5,450.0 L172.5,454.3 L177.5,458.8 L182.5,473.1 L186.5,485.5 L191.5,499.1 L196.5,505.6 L200.5,516.5 L205.5,530.5 L210.5,539.3 L214.5,553.4 L219.5,564.0 L224.5,568.4 L228.5,560.3 L233.5,558.5 L238.5,554.5 L243.5,556.1 L247.5,563.3 L252.5,563.7 L257.5,569.4 L261.5,564.4 L266.5,556.6 L271.5,552.8 L275.5,554.7 L280.5,550.7 L285.5,545.6 L289.5,539.9 L294.5,526.8 L299.5,516.6 L303.5,503.3 L308.5,491.1 L313.5,482.9 L317.5,475.6 L322.5,465.5 L327.5,458.7 L331.5,455.5 L336.5,454.1 L341.5,452.7 L345.5,454.1 L350.5,455.8 L355.5,459.1 L360.5,463.7 L364.5,465.8 L369.5,472.5 L374.5,484.6 L378.5,494.2 L383.5,498.2 L388.5,503.6 L392.5,511.0 L397.5,517.6 L402.5,521.6 L406.5,520.6 L411.5,521.6 L416.5,515.9 L420.5,505.6 L425.5,496.9 L430.5,493.5 L434.5,486.6 L439.5,476.2 L444.5,467.6 L448.5,460.3 L453.5,455.1 L458.5,447.9 L462.5,443.7 L467.5,437.9 L472.5,433.8 L477.5,425.7 L481.5,418.4 L486.5,410.5 L491.5,403.2 L495.5,395.6 L500.5,388.4 L505.5,383.6 L509.5,378.1 L514.5,373.4 L519.5,367.4 L523.5,361.9 L528.5,357.5 L533.5,352.9 L537.5,349.8 L542.5,347.9 L547.5,346.3 L551.5,341.6 L556.5,336.6 L561.5,330.5 L565.5,326.1 L570.5,326.9 L575.5,329.8 L579.5,330.5 L584.5,329.6 L589.5,325.2 L594.5,322.7 L598.5,322.9 L603.5,322.7 L608.5,321.2" stroke="#4a9e22" stroke-width="1.15" fill="none" stroke-linejoin="round"/>
<path d="M9.5,835.5V798.2M23.5,835.5V801.8M27.5,835.5V801.2M32.5,835.5V798.6M37.5,835.5V794.1M69.5,835.5V820.5M74.5,835.5V816.4M79.5,835.5V814.8M83.5,835.5V813.7M111.5,835.5V824.8M243.5,835.5V829.3M266.5,835.5V830.6M271.5,835.5V821.0M275.5,835.5V820.4M280.5,835.5V811.5M285.5,835.5V802.7M289.5,835.5V797.8M294.5,835.5V791.7M299.5,835.5V789.0M303.5,835.5V787.4M416.5,835.5V824.9M420.5,835.5V818.5M425.5,835.5V815.6M430.5,835.5V813.9M434.5,835.5V812.7M453.5,835.5V815.6M458.5,835.5V813.9M477.5,835.5V814.5M481.5,835.5V812.3M523.5,835.5V826.0M556.5,835.5V834.6M561.5,835.5V831.9" stroke="#00ee00" stroke-width="1" fill="none" shape-rendering="crispEdges"/>
<path d="M13.5,835.5V800.2M18.5,835.5V802.4M41.5,835.5V796.2M46.5,835.5V797.7M51.5,835.5V807.5M55.5,835.5V814.8M60.5,835.5V821.5M65.5,835.5V822.1M88.5,835.5V818.2M93.5,835.5V822.2M97.5,835.5V823.5M102.5,835.5V825.2M107.5,835.5V825.4M116.5,835.5V827.2M308.5,835.5V787.9M313.5,835.5V790.7M317.5,835.5V797.5M322.5,835.5V802.8M327.5,835.5V808.6M331.5,835.5V812.3M336.5,835.5V819.0M341.5,835.5V828.6M439.5,835.5V813.5M444.5,835.5V815.0M448.5,835.5V816.2M462.5,835.5V814.4M467.5,835.5V815.7M472.5,835.5V818.3M486.5,835.5V812.8M491.5,835.5V813.7M495.5,835.5V814.9M500.5,835.5V817.0M505.5,835.5V820.7M509.5,835.5V823.6M514.5,835.5V825.8M519.5,835.5V827.0M528.5,835.5V826.7M533.5,835.5V828.7M537.5,835.5V832.1M565.5,835.5V833.7" stroke="#0a6a0a" stroke-width="1" fill="none" shape-rendering="crispEdges"/>
<path d="M126.5,835.5V842.4M130.5,835.5V846.8M135.5,835.5V850.5M158.5,835.5V841.2M163.5,835.5V842.7M168.5,835.5V847.4M172.5,835.5V855.0M177.5,835.5V864.0M182.5,835.5V883.6M186.5,835.5V890.7M214.5,835.5V868.7M219.5,835.5V873.9M247.5,835.5V836.8M252.5,835.5V841.0M257.5,835.5V841.6M345.5,835.5V837.1M350.5,835.5V842.6M355.5,835.5V845.5M360.5,835.5V848.4M364.5,835.5V850.0M369.5,835.5V857.1M374.5,835.5V864.3M378.5,835.5V873.0M392.5,835.5V866.6M542.5,835.5V836.3M547.5,835.5V840.1M570.5,835.5V840.0M575.5,835.5V849.5M579.5,835.5V851.1M584.5,835.5V851.9" stroke="#ff1010" stroke-width="1" fill="none" shape-rendering="crispEdges"/>
<path d="M140.5,835.5V847.2M144.5,835.5V845.1M149.5,835.5V844.0M154.5,835.5V841.1M191.5,835.5V890.7M196.5,835.5V885.6M200.5,835.5V877.6M205.5,835.5V876.8M210.5,835.5V865.7M224.5,835.5V866.4M228.5,835.5V855.3M233.5,835.5V845.3M238.5,835.5V837.5M261.5,835.5V838.5M383.5,835.5V866.3M388.5,835.5V862.1M397.5,835.5V864.9M402.5,835.5V857.6M406.5,835.5V847.1M551.5,835.5V837.7M589.5,835.5V846.6M594.5,835.5V844.9M598.5,835.5V844.7M603.5,835.5V843.3M608.5,835.5V838.0" stroke="#7a0f0f" stroke-width="1" fill="none" shape-rendering="crispEdges"/>
<path d="M9,872.2 L18,851.2 L30,830.2 L45,798.7 L54,786.6 L69,774.6 L90,753.6 L105,743.1 L120,738 L129.2,740.1 L141.2,747.6 L150.2,752.1 L162.2,755.1 L171.2,761.1 L180.2,779.1 L192.2,818.2 L204.3,842.2 L216.3,866.2 L225.3,881.3 L234.3,887.3 L243.3,885.8 L261.3,889.7 L270.4,885.8 L282.4,873.8 L294.4,854.2 L306.4,830.2 L318.4,803.2 L330.4,785.1 L342.4,777.6 L350,777.6 L360.5,783.6 L366.5,788.1 L375.5,804.7 L387.5,822.7 L399.5,839.2 L410,845.8 L417.5,843.7 L426.6,836.2 L441.6,819.7 L456.6,803.2 L468.6,788.1 L480,777.6 L489,767.1 L501,755.1 L511.5,747.6 L519,745.5 L532.6,738.6 L540,738 L555.1,740.1 L567.1,738.6 L573.1,741.6 L585.1,753.6 L594.1,758.7 L603.2,763.2 L608.6,763.2" stroke="#b03030" stroke-width="1.05" fill="none" stroke-linejoin="round"/>
<path d="M9,834.7 L18,818.2 L30,795.6 L37.5,773.1 L46.6,758.7 L60,767.7 L67.6,762.6 L75,749.1 L84,737.7 L93,738 L103.6,734.1 L112.6,729.6 L117,731 L126.2,746 L135.2,759 L144.2,758.7 L148.7,760.5 L154.7,758.7 L162.2,761.1 L169.7,773.1 L177.2,800.2 L183.2,839.2 L189.2,867.7 L195.3,876.8 L201.9,876.8 L205.8,886.7 L210.3,884.3 L216.3,900.8 L220.8,913.7 L223.8,912.2 L229.8,900.8 L235.8,893.9 L243.3,879.2 L249.3,891.8 L256.8,895.4 L262.8,891.8 L271.9,869.2 L276.4,864.7 L285.4,836.2 L295.9,806.2 L303.4,788.1 L312.4,770.1 L322.9,764.1 L331.9,761.1 L339.4,767.1 L345.4,779.1 L354.5,789.6 L365,801.7 L372.5,824.2 L378.5,846.7 L387.5,848.2 L393.5,863.2 L398,866.2 L402.5,863.2 L410,848.2 L420.5,824.2 L435.6,803.2 L450.6,791.1 L459.6,777.6 L468.6,768.6 L473.1,767.1 L480,754.3 L489,744.6 L499.5,737.1 L519,737.1 L525,732.6 L532.6,731.1 L538.6,735.6 L547.6,743.7 L555.1,740.1 L561.1,735.6 L567.7,737.7 L571.6,747.6 L576.1,759.6 L585.1,770.1 L589.6,767.1 L595.6,768.6 L600.2,771 L603.8,771 L608.6,765.6" stroke="#3a3a3a" stroke-width="1.05" fill="none" stroke-linejoin="round"/>
<path d="M976.5,550V563M986.5,544V563M990.5,499V530M995.5,500V524M1004.5,475V496M1023.5,507V521M1028.5,496V511M1037.5,463V478M1042.5,442V458M1046.5,443V468M1056.5,450V479M1060.5,424V446M1070.5,418V432M1089.5,428V454M1098.5,427V443M1103.5,415V434M1107.5,391V424M1117.5,386V402M1126.5,400V424M1149.5,552V587M1154.5,540V599M1159.5,486V534M1173.5,478V549M1187.5,532V558M1201.5,488V500M1215.5,549V571M1224.5,545V579M1229.5,503V524M1243.5,507V523M1248.5,454V479M1262.5,470V499M1266.5,443V473M1280.5,444V460M1285.5,436V453M1290.5,439V471M1304.5,455V472M1313.5,469V522M1327.5,496V517M1341.5,542V601M1346.5,505V534M1360.5,524V543M1365.5,506V533M1369.5,461V485M1374.5,476V488M1379.5,444V475M1383.5,450V466M1397.5,444V461M1407.5,458V474M1411.5,436V454M1416.5,416V450M1421.5,387V405M1430.5,394V419M1440.5,370V390M1463.5,340V364M1468.5,344V357M1472.5,327V344M1477.5,333V348M1482.5,337V351M1486.5,318V330M1491.5,313V331M1514.5,287V313M1519.5,278V290M1524.5,262V278M1538.5,324V354M1542.5,303V315M1552.5,276V289M1566.5,278V291M1571.5,249V288" stroke="#2e8b0a" stroke-width="1" fill="none" shape-rendering="crispEdges"/>
<path d="M975.0,554h3V560h-3zM985.0,550h3V561h-3zM989.0,515h3V526h-3zM994.0,504h3V510h-3zM1003.0,489h3V491h-3zM1022.0,510h3V520h-3zM1027.0,497h3V504h-3zM1036.0,463h3V470h-3zM1041.0,442h3V456h-3zM1045.0,445h3V458h-3zM1055.0,452h3V479h-3zM1059.0,431h3V439h-3zM1069.0,418h3V430h-3zM1088.0,430h3V449h-3zM1097.0,432h3V442h-3zM1102.0,415h3V419h-3zM1106.0,392h3V424h-3zM1116.0,389h3V402h-3zM1125.0,408h3V423h-3zM1148.0,555h3V566h-3zM1153.0,546h3V585h-3zM1158.0,486h3V526h-3zM1172.0,494h3V549h-3zM1186.0,534h3V558h-3zM1200.0,493h3V495h-3zM1214.0,549h3V558h-3zM1223.0,548h3V568h-3zM1228.0,508h3V519h-3zM1242.0,507h3V517h-3zM1247.0,460h3V479h-3zM1261.0,471h3V483h-3zM1265.0,443h3V470h-3zM1279.0,448h3V460h-3zM1284.0,437h3V451h-3zM1289.0,439h3V441h-3zM1303.0,462h3V465h-3zM1312.0,473h3V504h-3zM1326.0,499h3V513h-3zM1340.0,542h3V571h-3zM1345.0,505h3V531h-3zM1359.0,532h3V535h-3zM1364.0,516h3V533h-3zM1368.0,480h3V485h-3zM1373.0,483h3V486h-3zM1378.0,450h3V475h-3zM1382.0,458h3V460h-3zM1396.0,445h3V454h-3zM1406.0,459h3V470h-3zM1410.0,437h3V440h-3zM1415.0,418h3V450h-3zM1420.0,390h3V405h-3zM1429.0,397h3V405h-3zM1439.0,370h3V388h-3zM1462.0,340h3V359h-3zM1467.0,344h3V356h-3zM1471.0,336h3V342h-3zM1476.0,338h3V348h-3zM1481.0,339h3V346h-3zM1485.0,318h3V324h-3zM1490.0,315h3V323h-3zM1513.0,287h3V313h-3zM1518.0,282h3V287h-3zM1523.0,263h3V276h-3zM1537.0,325h3V346h-3zM1541.0,309h3V313h-3zM1551.0,278h3V288h-3zM1565.0,280h3V289h-3zM1570.0,259h3V284h-3z" fill="#2e8b0a" shape-rendering="crispEdges"/>
<path d="M972.5,560V576M981.5,560V575M1000.5,470V501M1009.5,483V499M1014.5,498V540M1018.5,509V532M1032.5,449V480M1051.5,462V473M1065.5,424V442M1074.5,411V420M1079.5,412V431M1084.5,423V437M1093.5,418V451M1112.5,401V420M1121.5,390V416M1131.5,399V463M1135.5,396V472M1140.5,476V515M1145.5,555V613M1163.5,494V530M1168.5,526V555M1177.5,534V579M1182.5,566V595M1191.5,490V508M1196.5,497V517M1206.5,484V521M1210.5,499V590M1220.5,528V568M1234.5,494V527M1238.5,520V551M1252.5,454V467M1257.5,455V481M1271.5,418V441M1276.5,429V444M1294.5,420V442M1299.5,432V472M1308.5,446V511M1318.5,475V502M1323.5,483V537M1332.5,479V531M1337.5,549V585M1351.5,495V519M1355.5,526V560M1388.5,438V456M1393.5,447V485M1402.5,434V466M1425.5,392V408M1435.5,391V417M1444.5,348V359M1449.5,346V359M1454.5,356V372M1458.5,337V360M1496.5,301V320M1500.5,305V343M1505.5,321V336M1510.5,320V340M1528.5,265V278M1533.5,274V319M1547.5,302V319M1557.5,272V292M1561.5,281V299" stroke="#d4000c" stroke-width="1" fill="none" shape-rendering="crispEdges"/>
<path d="M971.0,566h3V570h-3zM980.0,564h3V569h-3zM999.0,470h3V482h-3zM1008.0,486h3V499h-3zM1013.0,498h3V538h-3zM1017.0,522h3V531h-3zM1031.0,451h3V469h-3zM1050.0,462h3V467h-3zM1064.0,426h3V434h-3zM1073.0,411h3V414h-3zM1078.0,415h3V425h-3zM1083.0,424h3V436h-3zM1092.0,418h3V451h-3zM1111.0,401h3V420h-3zM1120.0,390h3V402h-3zM1130.0,402h3V441h-3zM1134.0,435h3V462h-3zM1139.0,481h3V499h-3zM1144.0,559h3V592h-3zM1162.0,499h3V514h-3zM1167.0,531h3V546h-3zM1176.0,541h3V576h-3zM1181.0,570h3V579h-3zM1190.0,497h3V500h-3zM1195.0,503h3V517h-3zM1205.0,486h3V503h-3zM1209.0,518h3V584h-3zM1219.0,530h3V559h-3zM1233.0,494h3V513h-3zM1237.0,530h3V542h-3zM1251.0,456h3V466h-3zM1256.0,456h3V470h-3zM1270.0,430h3V435h-3zM1275.0,434h3V441h-3zM1293.0,434h3V439h-3zM1298.0,437h3V461h-3zM1307.0,449h3V503h-3zM1317.0,475h3V490h-3zM1322.0,484h3V521h-3zM1331.0,489h3V531h-3zM1336.0,549h3V573h-3zM1350.0,509h3V515h-3zM1354.0,534h3V560h-3zM1387.0,439h3V448h-3zM1392.0,449h3V470h-3zM1401.0,436h3V465h-3zM1424.0,394h3V408h-3zM1434.0,394h3V402h-3zM1443.0,350h3V354h-3zM1448.0,350h3V354h-3zM1453.0,356h3V363h-3zM1457.0,347h3V355h-3zM1495.0,305h3V309h-3zM1499.0,317h3V323h-3zM1504.0,322h3V329h-3zM1509.0,321h3V326h-3zM1527.0,271h3V277h-3zM1532.0,274h3V309h-3zM1546.0,302h3V309h-3zM1556.0,281h3V291h-3zM1560.0,290h3V293h-3z" fill="#d4000c" shape-rendering="crispEdges"/>
<path d="M972.3,662.6 L990,663 L1037,663 L1055.6,661.1 L1081.5,659.3 L1100,658.3 L1122.3,654.6 L1133.5,651.8 L1155.3,649 L1176.4,645.2 L1200,640.5 L1221.4,635.6 L1228.5,634.5 L1236.9,632.1 L1253.8,627.2 L1277.7,616.6 L1291.8,611.7 L1304.4,608.2 L1319.9,602.6 L1341.7,596.3 L1353.6,590.6 L1369.1,582.2 L1383.2,574.5 L1393.7,567.6 L1412.3,559.3 L1433,549.6 L1465,535 L1500,519.5 L1540,503 L1571.5,489" stroke="#3a3a3a" stroke-width="1.05" fill="none" stroke-linejoin="round"/>
<path d="M972.3,546.3 L986.1,548.5 L1000,546.3 L1009.3,545.4 L1024.1,547.6 L1030.6,547.6 L1037,545.4 L1061.1,545 L1074.1,541.7 L1090.8,538.5 L1103.7,533.3 L1113,525 L1124.1,517.6 L1133.4,512.3 L1142.3,508.9 L1151.5,506.3 L1162.6,499.3 L1173.7,491.9 L1183,489.1 L1192.3,485.4 L1205.2,482.6 L1220,483 L1233,484.1 L1244.1,485 L1255.2,482.2 L1268.2,480.4 L1281.1,479.8 L1290.4,479.4 L1301.1,479.7 L1314.1,483.7 L1327.1,487 L1338.2,492.6 L1351.1,500 L1362.3,505.6 L1370.6,507 L1378.9,504.6 L1390,500 L1401.1,496.7 L1407.6,496.3 L1419.7,488.9 L1433,481.9 L1450,468.5 L1465,460 L1480,451.5 L1495,441.5 L1510,430.5 L1524.1,419.6 L1538.9,409.4 L1550,402 L1563,390 L1571.5,379.3" stroke="#1a4fa3" stroke-width="1.2" fill="none" stroke-linejoin="round"/>
<path d="M972.5,625.0 L976.5,615.9 L981.5,604.6 L986.5,587.4 L990.5,573.1 L995.5,559.4 L1000.5,544.8 L1004.5,535.2 L1009.5,529.2 L1014.5,527.1 L1018.5,523.3 L1023.5,518.9 L1028.5,511.7 L1032.5,503.6 L1037.5,498.4 L1042.5,492.2 L1046.5,488.5 L1051.5,486.3 L1056.5,481.6 L1060.5,470.9 L1065.5,461.2 L1070.5,452.0 L1074.5,443.7 L1079.5,439.3 L1084.5,436.6 L1089.5,435.4 L1093.5,435.9 L1098.5,432.5 L1103.5,428.8 L1107.5,424.8 L1112.5,423.4 L1117.5,420.4 L1121.5,419.3 L1126.5,417.6 L1131.5,418.0 L1135.5,421.2 L1140.5,426.0 L1145.5,442.0 L1149.5,456.0 L1154.5,471.4 L1159.5,478.1 L1163.5,490.5 L1168.5,504.9 L1173.5,513.5 L1177.5,527.0 L1182.5,538.6 L1187.5,542.1 L1191.5,532.9 L1196.5,529.1 L1201.5,523.9 L1206.5,525.5 L1210.5,532.5 L1215.5,532.9 L1220.5,539.3 L1224.5,536.5 L1229.5,529.5 L1234.5,527.3 L1238.5,531.6 L1243.5,530.6 L1248.5,527.3 L1252.5,523.6 L1257.5,512.2 L1262.5,504.4 L1266.5,492.9 L1271.5,481.5 L1276.5,474.8 L1280.5,468.3 L1285.5,457.7 L1290.5,451.0 L1294.5,448.9 L1299.5,448.4 L1304.5,447.5 L1308.5,450.7 L1313.5,453.7 L1318.5,459.2 L1323.5,467.2 L1327.5,472.3 L1332.5,481.8 L1337.5,495.1 L1341.5,505.4 L1346.5,509.8 L1351.5,515.1 L1355.5,520.8 L1360.5,526.7 L1365.5,529.3 L1369.5,525.2 L1374.5,523.6 L1379.5,515.4 L1383.5,504.0 L1388.5,494.5 L1393.5,491.0 L1397.5,484.1 L1402.5,474.6 L1407.5,467.3 L1411.5,459.4 L1416.5,453.2 L1421.5,443.9 L1425.5,439.7 L1430.5,433.6 L1435.5,429.0 L1440.5,419.0 L1444.5,409.9 L1449.5,398.9 L1454.5,389.3 L1458.5,381.0 L1463.5,373.3 L1468.5,368.7 L1472.5,361.5 L1477.5,355.6 L1482.5,349.4 L1486.5,344.2 L1491.5,340.2 L1496.5,335.7 L1500.5,331.7 L1505.5,329.1 L1510.5,327.7 L1514.5,322.0 L1519.5,316.7 L1524.5,309.1 L1528.5,302.9 L1533.5,302.0 L1538.5,303.0 L1542.5,303.0 L1547.5,301.5 L1552.5,296.5 L1557.5,293.0 L1561.5,293.6 L1566.5,293.4 L1571.5,293.0" stroke="#4a9e22" stroke-width="1.15" fill="none" stroke-linejoin="round"/>
<path d="M972.5,831.5V788.2M986.5,831.5V790.5M990.5,831.5V786.5M995.5,831.5V780.2M1000.5,831.5V774.0M1004.5,831.5V772.8M1032.5,831.5V808.6M1037.5,831.5V805.6M1042.5,831.5V801.8M1060.5,831.5V812.5M1070.5,831.5V814.2M1074.5,831.5V813.7M1201.5,831.5V828.3M1206.5,831.5V823.8M1229.5,831.5V829.0M1234.5,831.5V821.9M1243.5,831.5V815.9M1248.5,831.5V803.3M1252.5,831.5V797.1M1257.5,831.5V793.8M1262.5,831.5V792.5M1266.5,831.5V791.9M1271.5,831.5V788.6M1374.5,831.5V821.3M1379.5,831.5V811.0M1383.5,831.5V806.0M1388.5,831.5V802.0M1397.5,831.5V803.4M1416.5,831.5V807.8M1421.5,831.5V799.0M1440.5,831.5V802.5M1444.5,831.5V799.5M1519.5,831.5V829.6M1524.5,831.5V824.9" stroke="#00ee00" stroke-width="1" fill="none" shape-rendering="crispEdges"/>
<path d="M976.5,831.5V788.7M981.5,831.5V791.2M1009.5,831.5V778.5M1014.5,831.5V792.6M1018.5,831.5V803.1M1023.5,831.5V808.5M1028.5,831.5V811.3M1046.5,831.5V801.9M1051.5,831.5V809.1M1056.5,831.5V813.4M1065.5,831.5V814.7M1079.5,831.5V818.0M1084.5,831.5V824.9M1089.5,831.5V830.1M1238.5,831.5V822.7M1276.5,831.5V792.7M1280.5,831.5V795.9M1285.5,831.5V799.9M1290.5,831.5V805.2M1294.5,831.5V807.2M1299.5,831.5V816.0M1304.5,831.5V824.1M1393.5,831.5V804.0M1402.5,831.5V805.8M1407.5,831.5V811.5M1411.5,831.5V811.5M1425.5,831.5V801.5M1430.5,831.5V803.4M1435.5,831.5V806.4M1449.5,831.5V800.3M1454.5,831.5V804.6M1458.5,831.5V806.7M1463.5,831.5V808.0M1468.5,831.5V811.5M1472.5,831.5V814.4M1477.5,831.5V818.0M1482.5,831.5V821.5M1486.5,831.5V821.6M1491.5,831.5V822.4M1496.5,831.5V822.8M1500.5,831.5V827.2M1528.5,831.5V825.7" stroke="#0a6a0a" stroke-width="1" fill="none" shape-rendering="crispEdges"/>
<path d="M1093.5,831.5V835.8M1098.5,831.5V841.0M1112.5,831.5V835.3M1121.5,831.5V832.6M1126.5,831.5V837.3M1131.5,831.5V845.5M1135.5,831.5V853.5M1140.5,831.5V870.2M1145.5,831.5V895.6M1149.5,831.5V903.1M1154.5,831.5V905.1M1177.5,831.5V869.4M1182.5,831.5V872.6M1210.5,831.5V835.2M1215.5,831.5V839.4M1220.5,831.5V840.3M1308.5,831.5V835.9M1313.5,831.5V841.7M1318.5,831.5V847.7M1323.5,831.5V854.1M1327.5,831.5V854.9M1332.5,831.5V863.0M1337.5,831.5V873.0M1355.5,831.5V856.1M1505.5,831.5V832.7M1510.5,831.5V837.0M1533.5,831.5V833.6M1538.5,831.5V845.1M1542.5,831.5V848.0M1547.5,831.5V849.3M1557.5,831.5V845.5M1561.5,831.5V845.6" stroke="#ff1010" stroke-width="1" fill="none" shape-rendering="crispEdges"/>
<path d="M1103.5,831.5V838.1M1107.5,831.5V832.7M1159.5,831.5V888.2M1163.5,831.5V881.0M1168.5,831.5V878.1M1173.5,831.5V865.4M1187.5,831.5V864.6M1191.5,831.5V851.1M1196.5,831.5V841.4M1224.5,831.5V839.2M1341.5,831.5V872.9M1346.5,831.5V862.5M1351.5,831.5V853.5M1360.5,831.5V853.2M1365.5,831.5V845.9M1369.5,831.5V835.2M1514.5,831.5V833.8M1552.5,831.5V845.5M1566.5,831.5V842.6M1571.5,831.5V837.3" stroke="#7a0f0f" stroke-width="1" fill="none" shape-rendering="crispEdges"/>
<path d="M972.5,909.5 L980.5,885.0 L990.5,862.5 L1000.5,835.0 L1009.2,810.0 L1016.8,796.2 L1024.2,786.2 L1033.0,775.0 L1040.5,762.5 L1049.2,750.0 L1058.0,741.2 L1065.5,733.8 L1073.0,727.0 L1079.2,722.0 L1085.5,720.0 L1090.5,720.5 L1098.0,723.8 L1106.8,726.2 L1115.5,728.0 L1123.0,728.2 L1129.2,730.5 L1135.5,737.5 L1140.5,748.8 L1145.5,766.2 L1150.5,786.2 L1155.5,805.0 L1161.8,822.5 L1168.0,840.0 L1175.5,853.8 L1181.8,867.5 L1188.0,877.5 L1194.2,882.5 L1200.5,883.2 L1209.2,881.2 L1215.5,883.8 L1221.8,887.5 L1228.0,888.2 L1234.2,885.8 L1239.2,883.8 L1245.5,876.2 L1253.0,865.0 L1260.5,851.2 L1268.0,837.5 L1275.5,821.2 L1283.0,807.5 L1290.5,795.0 L1298.0,787.5 L1304.2,784.2 L1310.5,786.2 L1315.5,788.8 L1323.0,797.5 L1329.2,805.0 L1335.5,817.5 L1341.8,830.0 L1349.2,843.8 L1356.8,853.8 L1363.0,860.5 L1368.0,861.8 L1374.2,860.0 L1380.5,853.8 L1388.0,845.0 L1395.5,833.8 L1400.5,827.0 L1403.0,823.3 L1410.4,812.2 L1419.0,801.1 L1426.5,787.5 L1435.1,774.0 L1443.7,759.1 L1452.4,745.6 L1462.3,733.2 L1469.7,725.8 L1477.1,719.6 L1487.0,715.9 L1495.6,712.2 L1503.0,710.5 L1510.4,713.5 L1519.0,712.7 L1526.5,710.2 L1531.4,708.5 L1536.3,711.7 L1543.7,718.4 L1551.1,725.8 L1558.6,730.7 L1566.0,735.7 L1571.6,737.4" stroke="#b03030" stroke-width="1.05" fill="none" stroke-linejoin="round"/>
<path d="M972.5,866.2 L978.0,850.0 L985.5,833.8 L990.5,817.5 L995.5,797.5 L1003.0,767.5 L1009.2,756.2 L1014.2,761.2 L1019.2,766.2 L1024.2,763.8 L1029.2,760.0 L1035.5,746.2 L1043.0,728.8 L1047.5,723.0 L1051.8,725.5 L1056.8,724.5 L1061.8,718.0 L1065.5,717.0 L1070.5,712.0 L1075.5,707.0 L1080.5,708.8 L1085.5,715.0 L1090.5,720.0 L1094.2,727.5 L1098.8,733.8 L1103.0,732.5 L1108.0,727.0 L1112.5,731.2 L1118.0,727.5 L1123.0,730.0 L1128.0,737.5 L1133.0,751.2 L1136.8,763.8 L1140.5,787.5 L1144.2,822.5 L1149.2,852.5 L1154.2,875.0 L1159.2,872.5 L1164.2,877.5 L1168.5,887.5 L1173.0,882.5 L1178.0,897.5 L1183.5,912.5 L1187.2,910.5 L1193.0,896.2 L1198.0,891.2 L1201.8,878.8 L1206.8,873.8 L1211.8,889.5 L1216.8,892.5 L1220.5,895.5 L1225.5,895.5 L1230.5,882.5 L1235.5,874.5 L1239.2,875.5 L1243.0,865.0 L1248.0,845.0 L1254.2,826.2 L1260.5,812.5 L1266.8,800.0 L1271.8,786.2 L1278.0,778.8 L1286.8,770.5 L1295.5,766.2 L1300.5,772.5 L1305.0,777.5 L1309.2,792.5 L1314.2,798.8 L1319.2,810.0 L1324.2,822.5 L1328.5,827.5 L1333.0,845.0 L1338.0,865.0 L1342.5,872.5 L1348.0,868.8 L1351.8,868.8 L1356.8,879.5 L1360.5,879.5 L1365.5,875.5 L1370.5,862.5 L1375.5,846.2 L1379.2,835.0 L1385.5,820.0 L1390.5,811.2 L1394.2,808.8 L1399.2,800.0 L1403.0,798.1 L1407.4,796.7 L1412.9,788.8 L1417.8,777.7 L1421.5,764.1 L1427.7,756.7 L1432.6,750.5 L1435.8,748.0 L1440.0,736.9 L1445.0,724.6 L1449.9,718.4 L1454.9,715.9 L1459.8,712.2 L1464.2,707.8 L1469.7,706.8 L1474.6,706.0 L1478.3,706.0 L1482.0,707.8 L1487.0,706.0 L1491.9,704.8 L1496.3,703.1 L1500.5,706.8 L1505.5,712.7 L1510.4,719.1 L1515.3,714.7 L1520.3,709.8 L1524.0,704.3 L1528.9,703.6 L1531.4,706.8 L1535.1,715.9 L1538.3,727.0 L1543.7,735.7 L1548.7,741.4 L1552.4,740.6 L1557.3,743.8 L1562.3,747.3 L1566.0,747.3 L1571.6,743.1" stroke="#3a3a3a" stroke-width="1.05" fill="none" stroke-linejoin="round"/>
<text x="850.5" y="256.5" font-size="15.3" fill="#6f6f6f" text-anchor="start" font-weight="normal"  textLength="32.2" lengthAdjust="spacingAndGlyphs">3200</text>
<text x="850.5" y="306.9" font-size="15.3" fill="#6f6f6f" text-anchor="start" font-weight="normal"  textLength="32.2" lengthAdjust="spacingAndGlyphs">3150</text>
<text x="850.5" y="357.3" font-size="15.3" fill="#6f6f6f" text-anchor="start" font-weight="normal"  textLength="32.2" lengthAdjust="spacingAndGlyphs">3100</text>
<text x="850.5" y="407.7" font-size="15.3" fill="#6f6f6f" text-anchor="start" font-weight="normal"  textLength="32.2" lengthAdjust="spacingAndGlyphs">3050</text>
<text x="850.5" y="458.1" font-size="15.3" fill="#6f6f6f" text-anchor="start" font-weight="normal"  textLength="32.2" lengthAdjust="spacingAndGlyphs">3000</text>
<text x="850.5" y="508.4" font-size="15.3" fill="#6f6f6f" text-anchor="start" font-weight="normal"  textLength="32.2" lengthAdjust="spacingAndGlyphs">2950</text>
<text x="850.5" y="558.8" font-size="15.3" fill="#6f6f6f" text-anchor="start" font-weight="normal"  textLength="32.2" lengthAdjust="spacingAndGlyphs">2900</text>
<text x="850.5" y="609.2" font-size="15.3" fill="#6f6f6f" text-anchor="start" font-weight="normal"  textLength="32.2" lengthAdjust="spacingAndGlyphs">2850</text>
<text x="850.5" y="659.6" font-size="15.3" fill="#6f6f6f" text-anchor="start" font-weight="normal"  textLength="32.2" lengthAdjust="spacingAndGlyphs">2800</text>
<text x="850.5" y="747.7" font-size="15.3" fill="#6f6f6f" text-anchor="start" font-weight="normal"  textLength="16.1" lengthAdjust="spacingAndGlyphs">30</text>
<text x="850.5" y="778.6" font-size="15.3" fill="#6f6f6f" text-anchor="start" font-weight="normal"  textLength="16.1" lengthAdjust="spacingAndGlyphs">20</text>
<text x="850.5" y="809.5" font-size="15.3" fill="#6f6f6f" text-anchor="start" font-weight="normal"  textLength="16.1" lengthAdjust="spacingAndGlyphs">10</text>
<text x="850.5" y="871.3" font-size="15.3" fill="#6f6f6f" text-anchor="start" font-weight="normal"  textLength="20.9" lengthAdjust="spacingAndGlyphs">-10</text>
<text x="850.5" y="902.2" font-size="15.3" fill="#6f6f6f" text-anchor="start" font-weight="normal"  textLength="20.9" lengthAdjust="spacingAndGlyphs">-20</text>
<text x="1813.5" y="102.7" font-size="15.3" fill="#6f6f6f" text-anchor="start" font-weight="normal"  textLength="32.2" lengthAdjust="spacingAndGlyphs">9200</text>
<text x="1813.5" y="169.7" font-size="15.3" fill="#6f6f6f" text-anchor="start" font-weight="normal"  textLength="32.2" lengthAdjust="spacingAndGlyphs">9000</text>
<text x="1813.5" y="236.7" font-size="15.3" fill="#6f6f6f" text-anchor="start" font-weight="normal"  textLength="32.2" lengthAdjust="spacingAndGlyphs">8800</text>
<text x="1813.5" y="303.7" font-size="15.3" fill="#6f6f6f" text-anchor="start" font-weight="normal"  textLength="32.2" lengthAdjust="spacingAndGlyphs">8600</text>
<text x="1813.5" y="370.7" font-size="15.3" fill="#6f6f6f" text-anchor="start" font-weight="normal"  textLength="32.2" lengthAdjust="spacingAndGlyphs">8400</text>
<text x="1813.5" y="437.7" font-size="15.3" fill="#6f6f6f" text-anchor="start" font-weight="normal"  textLength="32.2" lengthAdjust="spacingAndGlyphs">8200</text>
<text x="1813.5" y="504.7" font-size="15.3" fill="#6f6f6f" text-anchor="start" font-weight="normal"  textLength="32.2" lengthAdjust="spacingAndGlyphs">8000</text>
<text x="1813.5" y="571.7" font-size="15.3" fill="#6f6f6f" text-anchor="start" font-weight="normal"  textLength="32.2" lengthAdjust="spacingAndGlyphs">7800</text>
<text x="1813.5" y="638.7" font-size="15.3" fill="#6f6f6f" text-anchor="start" font-weight="normal"  textLength="32.2" lengthAdjust="spacingAndGlyphs">7600</text>
<text x="1813.5" y="722.8" font-size="15.3" fill="#6f6f6f" text-anchor="start" font-weight="normal"  textLength="24.1" lengthAdjust="spacingAndGlyphs">100</text>
<text x="1813.5" y="751.3" font-size="15.3" fill="#6f6f6f" text-anchor="start" font-weight="normal"  textLength="16.1" lengthAdjust="spacingAndGlyphs">75</text>
<text x="1813.5" y="779.8" font-size="15.3" fill="#6f6f6f" text-anchor="start" font-weight="normal"  textLength="16.1" lengthAdjust="spacingAndGlyphs">50</text>
<text x="1813.5" y="808.3" font-size="15.3" fill="#6f6f6f" text-anchor="start" font-weight="normal"  textLength="16.1" lengthAdjust="spacingAndGlyphs">25</text>
<text x="1813.5" y="865.3" font-size="15.3" fill="#6f6f6f" text-anchor="start" font-weight="normal"  textLength="20.9" lengthAdjust="spacingAndGlyphs">-25</text>
<text x="1813.5" y="893.8" font-size="15.3" fill="#6f6f6f" text-anchor="start" font-weight="normal"  textLength="20.9" lengthAdjust="spacingAndGlyphs">-50</text>
<text x="1813.5" y="922.3" font-size="15.3" fill="#6f6f6f" text-anchor="start" font-weight="normal"  textLength="20.9" lengthAdjust="spacingAndGlyphs">-75</text>
<text x="67.0" y="938.3" font-size="15.3" fill="#6f6f6f" text-anchor="start" font-weight="normal"  textLength="18.5" lengthAdjust="spacingAndGlyphs">Jul</text>
<text x="1030.0" y="938.3" font-size="15.3" fill="#6f6f6f" text-anchor="start" font-weight="normal"  textLength="18.5" lengthAdjust="spacingAndGlyphs">Jul</text>
<text x="170.0" y="938.3" font-size="15.3" fill="#6f6f6f" text-anchor="start" font-weight="normal"  textLength="25.7" lengthAdjust="spacingAndGlyphs">Aug</text>
<text x="1133.0" y="938.3" font-size="15.3" fill="#6f6f6f" text-anchor="start" font-weight="normal"  textLength="25.7" lengthAdjust="spacingAndGlyphs">Aug</text>
<text x="273.1" y="938.3" font-size="15.3" fill="#6f6f6f" text-anchor="start" font-weight="normal"  textLength="25.7" lengthAdjust="spacingAndGlyphs">Sep</text>
<text x="1236.1" y="938.3" font-size="15.3" fill="#6f6f6f" text-anchor="start" font-weight="normal"  textLength="25.7" lengthAdjust="spacingAndGlyphs">Sep</text>
<text x="367.0" y="938.3" font-size="15.3" fill="#6f6f6f" text-anchor="start" font-weight="normal"  textLength="22.5" lengthAdjust="spacingAndGlyphs">Oct</text>
<text x="1330.0" y="938.3" font-size="15.3" fill="#6f6f6f" text-anchor="start" font-weight="normal"  textLength="22.5" lengthAdjust="spacingAndGlyphs">Oct</text>
<text x="475.0" y="938.3" font-size="15.3" fill="#6f6f6f" text-anchor="start" font-weight="normal"  textLength="25.7" lengthAdjust="spacingAndGlyphs">Nov</text>
<text x="1438.0" y="938.3" font-size="15.3" fill="#6f6f6f" text-anchor="start" font-weight="normal"  textLength="25.7" lengthAdjust="spacingAndGlyphs">Nov</text>
<text x="568.1" y="938.3" font-size="15.3" fill="#6f6f6f" text-anchor="start" font-weight="normal"  textLength="25.7" lengthAdjust="spacingAndGlyphs">Dec</text>
<text x="1531.1" y="938.3" font-size="15.3" fill="#6f6f6f" text-anchor="start" font-weight="normal"  textLength="25.7" lengthAdjust="spacingAndGlyphs">Dec</text>
<text x="667.0" y="938.3" font-size="15.3" fill="#6f6f6f" text-anchor="start" font-weight="normal"  textLength="16.1" lengthAdjust="spacingAndGlyphs">20</text>
<text x="1630.0" y="938.3" font-size="15.3" fill="#6f6f6f" text-anchor="start" font-weight="normal"  textLength="16.1" lengthAdjust="spacingAndGlyphs">20</text>
<text x="764.9" y="938.3" font-size="15.3" fill="#6f6f6f" text-anchor="start" font-weight="normal"  textLength="24.9" lengthAdjust="spacingAndGlyphs">Feb</text>
<text x="1727.9" y="938.3" font-size="15.3" fill="#6f6f6f" text-anchor="start" font-weight="normal"  textLength="24.9" lengthAdjust="spacingAndGlyphs">Feb</text>
<rect x="1811.5" y="921" width="76" height="20" fill="#fafafa" />
<text x="8.0" y="715" font-size="15.2" fill="#222" text-anchor="start" font-weight="normal"  textLength="252.0" lengthAdjust="spacingAndGlyphs">MACD (12, 26, 9, EXPONENTIAL, no)</text>
<line x1="264.5" y1="698.5" x2="264.5" y2="721.5" stroke="#cfcfcf" stroke-width="1" />
<line x1="326.5" y1="698.5" x2="326.5" y2="721.5" stroke="#cfcfcf" stroke-width="1" />
<line x1="387.5" y1="698.5" x2="387.5" y2="721.5" stroke="#cfcfcf" stroke-width="1" />
<line x1="461" y1="698.5" x2="461" y2="721.5" stroke="#cfcfcf" stroke-width="1" />
<line x1="477.5" y1="698.5" x2="477.5" y2="721.5" stroke="#cfcfcf" stroke-width="1" />
<text x="269" y="715" font-size="15.2" fill="#222" text-anchor="start" font-weight="normal"  textLength="51.9" lengthAdjust="spacingAndGlyphs">22.4593</text>
<text x="330" y="715" font-size="15.2" fill="#a82828" text-anchor="start" font-weight="normal"  textLength="51.9" lengthAdjust="spacingAndGlyphs">23.1774</text>
<text x="391.5" y="715" font-size="15.2" fill="#7a0d0d" text-anchor="start" font-weight="normal"  textLength="64.7" lengthAdjust="spacingAndGlyphs">-0.718079</text>
<text x="465.5" y="715" font-size="15.2" fill="#5b2a9d" text-anchor="start" font-weight="normal"  textLength="8.0" lengthAdjust="spacingAndGlyphs">0</text>
<text x="971.0" y="688" font-size="15.2" fill="#222" text-anchor="start" font-weight="normal"  textLength="252.0" lengthAdjust="spacingAndGlyphs">MACD (12, 26, 9, EXPONENTIAL, no)</text>
<line x1="1227.5" y1="671.5" x2="1227.5" y2="694.5" stroke="#cfcfcf" stroke-width="1" />
<line x1="1289.5" y1="671.5" x2="1289.5" y2="694.5" stroke="#cfcfcf" stroke-width="1" />
<line x1="1350.5" y1="671.5" x2="1350.5" y2="694.5" stroke="#cfcfcf" stroke-width="1" />
<line x1="1406.5" y1="671.5" x2="1406.5" y2="694.5" stroke="#cfcfcf" stroke-width="1" />
<line x1="1423.5" y1="671.5" x2="1423.5" y2="694.5" stroke="#cfcfcf" stroke-width="1" />
<text x="1232" y="688" font-size="15.2" fill="#222" text-anchor="start" font-weight="normal"  textLength="51.9" lengthAdjust="spacingAndGlyphs">77.4626</text>
<text x="1293" y="688" font-size="15.2" fill="#a82828" text-anchor="start" font-weight="normal"  textLength="51.9" lengthAdjust="spacingAndGlyphs">82.5043</text>
<text x="1354.5" y="688" font-size="15.2" fill="#7a0d0d" text-anchor="start" font-weight="normal"  textLength="48.7" lengthAdjust="spacingAndGlyphs">-5.0417</text>
<text x="1411" y="688" font-size="15.2" fill="#5b2a9d" text-anchor="start" font-weight="normal"  textLength="8.0" lengthAdjust="spacingAndGlyphs">0</text>
<line x1="5" y1="835.5" x2="847" y2="835.5" stroke="#7b1fa2" stroke-width="1" shape-rendering="crispEdges"/>
<line x1="968" y1="831.5" x2="1810" y2="831.5" stroke="#7b1fa2" stroke-width="1" shape-rendering="crispEdges"/>
<rect x="850" y="272.75" width="59" height="16.5" rx="3.5" fill="#2e2e2e"/>
<text x="879.5" y="286.4" font-size="15.3" fill="#fff" text-anchor="middle" font-weight="normal"  textLength="52.3" lengthAdjust="spacingAndGlyphs">3168.57</text>
<rect x="850" y="311.75" width="59" height="16.5" rx="3.5" fill="#389a0c"/>
<text x="879.5" y="325.4" font-size="15.3" fill="#fff" text-anchor="middle" font-weight="normal"  textLength="52.3" lengthAdjust="spacingAndGlyphs">3130.28</text>
<rect x="850" y="383.75" width="59" height="16.5" rx="3.5" fill="#0c2f94"/>
<text x="879.5" y="397.4" font-size="15.3" fill="#fff" text-anchor="middle" font-weight="normal"  textLength="52.3" lengthAdjust="spacingAndGlyphs">3058.37</text>
<rect x="850" y="500.75" width="59" height="16.5" rx="3.5" fill="#2e2e2e"/>
<text x="879.5" y="514.4" font-size="15.3" fill="#fff" text-anchor="middle" font-weight="normal"  textLength="52.3" lengthAdjust="spacingAndGlyphs">2942.59</text>
<rect x="850" y="755.75" width="59" height="16.5" rx="3.5" fill="#2e2e2e"/>
<text x="879.5" y="769.4" font-size="15.3" fill="#fff" text-anchor="middle" font-weight="normal"  textLength="52.3" lengthAdjust="spacingAndGlyphs">22.4593</text>
<rect x="850" y="827.75" width="56" height="16.5" rx="3.5" fill="#7a0a0a"/>
<text x="878.0" y="841.4" font-size="15.3" fill="#fff" text-anchor="middle" font-weight="normal"  textLength="49.0" lengthAdjust="spacingAndGlyphs">-0.7180</text>
<rect x="1813" y="250.05" width="59" height="16.5" rx="3.5" fill="#2e2e2e"/>
<text x="1842.5" y="263.7" font-size="15.3" fill="#fff" text-anchor="middle" font-weight="normal"  textLength="52.3" lengthAdjust="spacingAndGlyphs">8717.32</text>
<rect x="1813" y="284.05" width="59" height="16.5" rx="3.5" fill="#389a0c"/>
<text x="1842.5" y="297.7" font-size="15.3" fill="#fff" text-anchor="middle" font-weight="normal"  textLength="52.3" lengthAdjust="spacingAndGlyphs">8615.74</text>
<rect x="1813" y="369.75" width="59" height="16.5" rx="3.5" fill="#0c2f94"/>
<text x="1842.5" y="383.4" font-size="15.3" fill="#fff" text-anchor="middle" font-weight="normal"  textLength="52.3" lengthAdjust="spacingAndGlyphs">8359.46</text>
<rect x="1813" y="479.75" width="59" height="16.5" rx="3.5" fill="#2e2e2e"/>
<text x="1842.5" y="493.4" font-size="15.3" fill="#fff" text-anchor="middle" font-weight="normal"  textLength="52.3" lengthAdjust="spacingAndGlyphs">8031.55</text>
<rect x="1813" y="733.75" width="59" height="16.5" rx="3.5" fill="#2e2e2e"/>
<text x="1842.5" y="747.4" font-size="15.3" fill="#fff" text-anchor="middle" font-weight="normal"  textLength="52.3" lengthAdjust="spacingAndGlyphs">77.4626</text>
<rect x="1813.5" y="828.15" width="55.5" height="16.5" rx="3.5" fill="#7a0a0a"/>
<text x="1841.25" y="841.8" font-size="15.3" fill="#fff" text-anchor="middle" font-weight="normal"  textLength="49.0" lengthAdjust="spacingAndGlyphs">-5.0417</text>
<path d="M609.5,267.7 L608.2,276 L613.5,267.7 z" fill="#dcdcdc" stroke="#a4a4a4" stroke-width="1" />
<rect x="603.5" y="243.2" width="85.8" height="24.5" rx="4.5" fill="#dcdcdc" stroke="#a4a4a4" stroke-width="1"/>
<rect x="610.3" y="266.5" width="2.4" height="2.4" fill="#dcdcdc" />
<text x="609.7" y="262.7" font-size="15.2" fill="#1c1c1c" text-anchor="start" font-weight="normal"  textLength="73.5" lengthAdjust="spacingAndGlyphs">Hi: 3176.28</text>
<path d="M184,640.7 L182.2,631.8 L191.5,640.7 z" fill="#dcdcdc" stroke="#a4a4a4" stroke-width="1" />
<rect x="177.8" y="640.7" width="87" height="23.3" rx="4.5" fill="#dcdcdc" stroke="#a4a4a4" stroke-width="1"/>
<rect x="184.8" y="639.5" width="5.9" height="2.4" fill="#dcdcdc" />
<text x="184.0" y="659.0" font-size="15.2" fill="#1c1c1c" text-anchor="start" font-weight="normal"  textLength="75.9" lengthAdjust="spacingAndGlyphs">Lo: 2822.12</text>
<path d="M1575.8,241.7 L1571.2,250 L1579.4,241.7 z" fill="#dcdcdc" stroke="#a4a4a4" stroke-width="1" />
<rect x="1566.5" y="217.3" width="86.5" height="24.4" rx="4.5" fill="#dcdcdc" stroke="#a4a4a4" stroke-width="1"/>
<rect x="1576.6" y="240.5" width="2.0000000000001363" height="2.4" fill="#dcdcdc" />
<text x="1572.7" y="236.70000000000002" font-size="15.2" fill="#1c1c1c" text-anchor="start" font-weight="normal"  textLength="73.5" lengthAdjust="spacingAndGlyphs">Hi: 8745.82</text>
<path d="M1148.8,621.3 L1145.6,613.2 L1153,621.3 z" fill="#dcdcdc" stroke="#a4a4a4" stroke-width="1" />
<rect x="1140.5" y="621.3" width="80" height="24.2" rx="4.5" fill="#dcdcdc" stroke="#a4a4a4" stroke-width="1"/>
<rect x="1149.6" y="620.0999999999999" width="2.6000000000000454" height="2.4" fill="#dcdcdc" />
<text x="1146.7" y="640.5" font-size="15.2" fill="#1c1c1c" text-anchor="start" font-weight="normal"  textLength="67.9" lengthAdjust="spacingAndGlyphs">Lo: 7662.9</text>
<rect x="2" y="941.7" width="923" height="28.3" fill="#ffffff" />
<rect x="2" y="947" width="626" height="18" fill="#ebebeb" />
<rect x="2" y="947" width="18" height="18" fill="#dedede" />
<path d="M12.5,951.8 v7.6 l-4.2,-3.8 z" fill="#5a5a5a" stroke="none" stroke-width="1" />
<rect x="592" y="947" width="36" height="18" fill="#dcdcdc" />
<path d="M603,952 v7.5 l-4,-3.75 z" fill="#6a6a6a" stroke="none" stroke-width="1" />
<path d="M617,952 v7.5 l4,-3.75 z" fill="#6a6a6a" stroke="none" stroke-width="1" />
<path d="M637,951 v9.5 l-6,-4.75 z" fill="#1e1e1e" stroke="none" stroke-width="1" />
<path d="M644.5,951 v9.5 l6,-4.75 z" fill="#1e1e1e" stroke="none" stroke-width="1" />
<rect x="638.5" y="952" width="1.6" height="7.5" fill="#1e1e1e" />
<rect x="641.2" y="952" width="1.6" height="7.5" fill="#1e1e1e" />
<circle cx="667.6" cy="956" r="6.6" fill="none" stroke="#1e1e1e" stroke-width="1.6"/>
<line x1="659.1" y1="956" x2="676.1" y2="956" stroke="#1e1e1e" stroke-width="1.5" />
<line x1="667.6" y1="947.5" x2="667.6" y2="964.5" stroke="#1e1e1e" stroke-width="1.5" />
<circle cx="694.5" cy="953.2" r="7.2" fill="none" stroke="#1e1e1e" stroke-width="1.6"/>
<line x1="699.8" y1="958.5" x2="706.3" y2="965" stroke="#1e1e1e" stroke-width="2.2" />
<line x1="690.9" y1="953.2" x2="698.1" y2="953.2" stroke="#1e1e1e" stroke-width="1.5" />
<line x1="694.5" y1="949.6" x2="694.5" y2="956.8" stroke="#1e1e1e" stroke-width="1.5" />
<circle cx="721.5" cy="953.2" r="7.2" fill="none" stroke="#a9a9a9" stroke-width="1.6"/>
<line x1="726.8" y1="958.5" x2="733.3" y2="965" stroke="#a9a9a9" stroke-width="2.2" />
<line x1="717.9" y1="953.2" x2="725.1" y2="953.2" stroke="#a9a9a9" stroke-width="1.5" />
<path transform="translate(748.8,956) scale(0.95)" d="M-2.5,3 V-7.5 Q-2.5,-9.5 -0.8,-9.5 Q0.9,-9.5 0.9,-7.5 V-1.5 Q0.9,-3 2.4,-3 Q3.9,-3 3.9,-1.2 Q3.9,-2.4 5.3,-2.4 Q6.8,-2.4 6.8,-0.6 Q6.9,-1.6 8,-1.4 Q9.2,-1.2 9.2,0.6 V5 Q9.2,8 7.2,9.5 H-0.5 Q-2.5,8 -4.5,5 L-7,1.8 Q-7.8,0.4 -6.4,-0.2 Q-5.2,-0.6 -4.2,0.6 Z" fill="none" stroke="#1e1e1e" stroke-width="1.3" stroke-linejoin="round"/>
<text x="780.3" y="961.6" font-size="15.3" fill="#222" text-anchor="start" font-weight="normal"  textLength="131.8" lengthAdjust="spacingAndGlyphs">Drawing set: Default</text>
<path d="M921.5,965.5 v-4.6 l-4.6,4.6 z" fill="#1e1e1e" stroke="none" stroke-width="1" />
<rect x="965" y="941.7" width="924" height="28.3" fill="#ffffff" />
<rect x="965" y="947" width="626" height="18" fill="#ebebeb" />
<rect x="965" y="947" width="18" height="18" fill="#dedede" />
<path d="M975.5,951.8 v7.6 l-4.2,-3.8 z" fill="#5a5a5a" stroke="none" stroke-width="1" />
<rect x="1555" y="947" width="36" height="18" fill="#dcdcdc" />
<path d="M1566,952 v7.5 l-4,-3.75 z" fill="#6a6a6a" stroke="none" stroke-width="1" />
<path d="M1580,952 v7.5 l4,-3.75 z" fill="#6a6a6a" stroke="none" stroke-width="1" />
<path d="M1600,951 v9.5 l-6,-4.75 z" fill="#1e1e1e" stroke="none" stroke-width="1" />
<path d="M1607.5,951 v9.5 l6,-4.75 z" fill="#1e1e1e" stroke="none" stroke-width="1" />
<rect x="1601.5" y="952" width="1.6" height="7.5" fill="#1e1e1e" />
<rect x="1604.2" y="952" width="1.6" height="7.5" fill="#1e1e1e" />
<circle cx="1630.6" cy="956" r="6.6" fill="none" stroke="#1e1e1e" stroke-width="1.6"/>
<line x1="1622.1" y1="956" x2="1639.1" y2="956" stroke="#1e1e1e" stroke-width="1.5" />
<line x1="1630.6" y1="947.5" x2="1630.6" y2="964.5" stroke="#1e1e1e" stroke-width="1.5" />
<circle cx="1657.5" cy="953.2" r="7.2" fill="none" stroke="#1e1e1e" stroke-width="1.6"/>
<line x1="1662.8" y1="958.5" x2="1669.3" y2="965" stroke="#1e1e1e" stroke-width="2.2" />
<line x1="1653.9" y1="953.2" x2="1661.1" y2="953.2" stroke="#1e1e1e" stroke-width="1.5" />
<line x1="1657.5" y1="949.6" x2="1657.5" y2="956.8" stroke="#1e1e1e" stroke-width="1.5" />
<circle cx="1684.5" cy="953.2" r="7.2" fill="none" stroke="#a9a9a9" stroke-width="1.6"/>
<line x1="1689.8" y1="958.5" x2="1696.3" y2="965" stroke="#a9a9a9" stroke-width="2.2" />
<line x1="1680.9" y1="953.2" x2="1688.1" y2="953.2" stroke="#a9a9a9" stroke-width="1.5" />
<path transform="translate(1711.8,956) scale(0.95)" d="M-2.5,3 V-7.5 Q-2.5,-9.5 -0.8,-9.5 Q0.9,-9.5 0.9,-7.5 V-1.5 Q0.9,-3 2.4,-3 Q3.9,-3 3.9,-1.2 Q3.9,-2.4 5.3,-2.4 Q6.8,-2.4 6.8,-0.6 Q6.9,-1.6 8,-1.4 Q9.2,-1.2 9.2,0.6 V5 Q9.2,8 7.2,9.5 H-0.5 Q-2.5,8 -4.5,5 L-7,1.8 Q-7.8,0.4 -6.4,-0.2 Q-5.2,-0.6 -4.2,0.6 Z" fill="none" stroke="#1e1e1e" stroke-width="1.3" stroke-linejoin="round"/>
<text x="1743.3" y="961.6" font-size="15.3" fill="#222" text-anchor="start" font-weight="normal"  textLength="131.8" lengthAdjust="spacingAndGlyphs">Drawing set: Default</text>
<path d="M1884.5,965.5 v-4.6 l-4.6,4.6 z" fill="#1e1e1e" stroke="none" stroke-width="1" />
<rect x="925.5" y="34" width="29.5" height="935" fill="#b4b4b4" />
<rect x="925.5" y="34" width="1.5" height="935" fill="#a5a19d" />
<rect x="953.5" y="34" width="1.5" height="935" fill="#a5a19d" />
<rect x="925.5" y="33.3" width="29.5" height="1.5" fill="#a5a19d" />
<text x="945.85" y="91.10000000000001" font-size="15.6" fill="#222" text-anchor="start" font-weight="normal" font-family="'DejaVu Sans Condensed', 'DejaVu Sans', 'Liberation Sans', sans-serif" transform="rotate(-90 945.85 91.10000000000001)" textLength="36.7" lengthAdjust="spacingAndGlyphs">Trade</text>
<rect x="925.5" y="99.0" width="29.5" height="1.5" fill="#a5a19d" />
<text x="945.85" y="230.70000000000002" font-size="15.6" fill="#222" text-anchor="start" font-weight="normal" font-family="'DejaVu Sans Condensed', 'DejaVu Sans', 'Liberation Sans', sans-serif" transform="rotate(-90 945.85 230.70000000000002)" textLength="110.7" lengthAdjust="spacingAndGlyphs">Times And Sales</text>
<rect x="925.5" y="238.60000000000002" width="29.5" height="1.5" fill="#a5a19d" />
<text x="945.85" y="348.4" font-size="15.6" fill="#222" text-anchor="start" font-weight="normal" font-family="'DejaVu Sans Condensed', 'DejaVu Sans', 'Liberation Sans', sans-serif" transform="rotate(-90 945.85 348.4)" textLength="88.1" lengthAdjust="spacingAndGlyphs">Active Trader</text>
<rect x="925.5" y="356.3" width="29.5" height="1.5" fill="#a5a19d" />
<text x="945.85" y="451.4" font-size="15.6" fill="#222" text-anchor="start" font-weight="normal" font-family="'DejaVu Sans Condensed', 'DejaVu Sans', 'Liberation Sans', sans-serif" transform="rotate(-90 945.85 451.4)" textLength="78.0" lengthAdjust="spacingAndGlyphs">Big Buttons</text>
<rect x="925.5" y="460" width="29.5" height="61" fill="#fbfbfb" />
<text x="945.85" y="512.4" font-size="15.6" fill="#222" text-anchor="start" font-weight="normal" font-family="'DejaVu Sans Condensed', 'DejaVu Sans', 'Liberation Sans', sans-serif" transform="rotate(-90 945.85 512.4)" textLength="37.0" lengthAdjust="spacingAndGlyphs">Chart</text>
<rect x="925.5" y="520.3" width="29.5" height="1.5" fill="#a5a19d" />
<text x="945.85" y="636.4" font-size="15.6" fill="#222" text-anchor="start" font-weight="normal" font-family="'DejaVu Sans Condensed', 'DejaVu Sans', 'Liberation Sans', sans-serif" transform="rotate(-90 945.85 636.4)" textLength="89.2" lengthAdjust="spacingAndGlyphs">Phase Scores</text>
<rect x="925.5" y="644.3" width="29.5" height="1.5" fill="#a5a19d" />
<text x="945.85" y="735.4" font-size="15.6" fill="#222" text-anchor="start" font-weight="normal" font-family="'DejaVu Sans Condensed', 'DejaVu Sans', 'Liberation Sans', sans-serif" transform="rotate(-90 945.85 735.4)" textLength="73.1" lengthAdjust="spacingAndGlyphs">Dashboard</text>
<rect x="925.5" y="743.3" width="29.5" height="1.5" fill="#a5a19d" />
<text x="945.85" y="810.4" font-size="15.6" fill="#222" text-anchor="start" font-weight="normal" font-family="'DejaVu Sans Condensed', 'DejaVu Sans', 'Liberation Sans', sans-serif" transform="rotate(-90 945.85 810.4)" textLength="47.8" lengthAdjust="spacingAndGlyphs">Level II</text>
<rect x="925.5" y="818.3" width="29.5" height="1.5" fill="#a5a19d" />
<text x="945.85" y="906.9" font-size="15.6" fill="#222" text-anchor="start" font-weight="normal" font-family="'DejaVu Sans Condensed', 'DejaVu Sans', 'Liberation Sans', sans-serif" transform="rotate(-90 945.85 906.9)" textLength="68.2" lengthAdjust="spacingAndGlyphs">Live News</text>
<rect x="925.5" y="914.8" width="29.5" height="1.5" fill="#a5a19d" />
<rect x="926.2" y="33.8" width="28" height="66" fill="#f4f4f4" stroke="#a2a2a2" stroke-width="1.5"/>
<rect x="1888.5" y="34" width="29.0" height="938" fill="#b4b4b4" />
<rect x="1888.5" y="34" width="1.5" height="938" fill="#a5a19d" />
<rect x="1916.0" y="34" width="1.5" height="938" fill="#a5a19d" />
<rect x="1888.5" y="33.3" width="29.0" height="1.5" fill="#a5a19d" />
<text x="1908.6" y="91.10000000000001" font-size="15.6" fill="#222" text-anchor="start" font-weight="normal" font-family="'DejaVu Sans Condensed', 'DejaVu Sans', 'Liberation Sans', sans-serif" transform="rotate(-90 1908.6 91.10000000000001)" textLength="36.7" lengthAdjust="spacingAndGlyphs">Trade</text>
<rect x="1888.5" y="99.0" width="29.0" height="1.5" fill="#a5a19d" />
<text x="1908.6" y="230.70000000000002" font-size="15.6" fill="#222" text-anchor="start" font-weight="normal" font-family="'DejaVu Sans Condensed', 'DejaVu Sans', 'Liberation Sans', sans-serif" transform="rotate(-90 1908.6 230.70000000000002)" textLength="110.7" lengthAdjust="spacingAndGlyphs">Times And Sales</text>
<rect x="1888.5" y="238.60000000000002" width="29.0" height="1.5" fill="#a5a19d" />
<text x="1908.6" y="348.4" font-size="15.6" fill="#222" text-anchor="start" font-weight="normal" font-family="'DejaVu Sans Condensed', 'DejaVu Sans', 'Liberation Sans', sans-serif" transform="rotate(-90 1908.6 348.4)" textLength="88.1" lengthAdjust="spacingAndGlyphs">Active Trader</text>
<rect x="1888.5" y="356.3" width="29.0" height="1.5" fill="#a5a19d" />
<text x="1908.6" y="451.4" font-size="15.6" fill="#222" text-anchor="start" font-weight="normal" font-family="'DejaVu Sans Condensed', 'DejaVu Sans', 'Liberation Sans', sans-serif" transform="rotate(-90 1908.6 451.4)" textLength="78.0" lengthAdjust="spacingAndGlyphs">Big Buttons</text>
<rect x="1888.5" y="460" width="29.0" height="61" fill="#fbfbfb" />
<text x="1908.6" y="512.4" font-size="15.6" fill="#222" text-anchor="start" font-weight="normal" font-family="'DejaVu Sans Condensed', 'DejaVu Sans', 'Liberation Sans', sans-serif" transform="rotate(-90 1908.6 512.4)" textLength="37.0" lengthAdjust="spacingAndGlyphs">Chart</text>
<rect x="1888.5" y="520.3" width="29.0" height="1.5" fill="#a5a19d" />
<text x="1908.6" y="636.4" font-size="15.6" fill="#222" text-anchor="start" font-weight="normal" font-family="'DejaVu Sans Condensed', 'DejaVu Sans', 'Liberation Sans', sans-serif" transform="rotate(-90 1908.6 636.4)" textLength="89.2" lengthAdjust="spacingAndGlyphs">Phase Scores</text>
<rect x="1888.5" y="644.3" width="29.0" height="1.5" fill="#a5a19d" />
<text x="1908.6" y="735.4" font-size="15.6" fill="#222" text-anchor="start" font-weight="normal" font-family="'DejaVu Sans Condensed', 'DejaVu Sans', 'Liberation Sans', sans-serif" transform="rotate(-90 1908.6 735.4)" textLength="73.1" lengthAdjust="spacingAndGlyphs">Dashboard</text>
<rect x="1888.5" y="743.3" width="29.0" height="1.5" fill="#a5a19d" />
<text x="1908.6" y="810.4" font-size="15.6" fill="#222" text-anchor="start" font-weight="normal" font-family="'DejaVu Sans Condensed', 'DejaVu Sans', 'Liberation Sans', sans-serif" transform="rotate(-90 1908.6 810.4)" textLength="47.8" lengthAdjust="spacingAndGlyphs">Level II</text>
<rect x="1888.5" y="818.3" width="29.0" height="1.5" fill="#a5a19d" />
<text x="1908.6" y="906.9" font-size="15.6" fill="#222" text-anchor="start" font-weight="normal" font-family="'DejaVu Sans Condensed', 'DejaVu Sans', 'Liberation Sans', sans-serif" transform="rotate(-90 1908.6 906.9)" textLength="68.2" lengthAdjust="spacingAndGlyphs">Live News</text>
<rect x="1888.5" y="914.8" width="29.0" height="1.5" fill="#a5a19d" />
<rect x="1917.5" y="34" width="2.5" height="938" fill="#c9c9c9" />
<path d="M1816.5,50.8 c5,2.2 8,-1.2 10,-4.6 s5,-6 10,-3.4" fill="none" stroke="#1e1e1e" stroke-width="1.5" />
<line x1="1818" y1="37" x2="1823.2" y2="42.2" stroke="#1e1e1e" stroke-width="1.4" />
<path d="M1824.6,43.6 v-5 l-5,5 z" fill="#1e1e1e" stroke="none" stroke-width="1" />
<line x1="1836" y1="56" x2="1830.8" y2="50.8" stroke="#1e1e1e" stroke-width="1.4" />
<path d="M1829.4,49.4 h5 l-5,5 z" fill="#1e1e1e" stroke="none" stroke-width="1" />
<rect x="727.8" y="47.1" width="471.5" height="177" fill="#ffffff" />
<rect x="721.45" y="38.55" width="479.1" height="186.8" rx="12" fill="none" stroke="#22b14c" stroke-width="4.9"/>
<text x="729.2" y="67.5" font-size="24.8" font-weight="bold" font-family="'Liberation Serif', 'DejaVu Serif', serif" style="white-space:pre" textLength="439" lengthAdjust="spacing"><tspan fill="#000">SPX and Nasdaq closed 5 days above the</tspan></text>
<text x="729.2" y="94.5" font-size="24.8" font-family="'Liberation Serif', 'DejaVu Serif', serif" fill="#000" font-weight="bold" textLength="161.0" lengthAdjust="spacing">10sma in a new</text>
<text x="898.6" y="94.5" font-size="24.8" font-family="'Liberation Serif', 'DejaVu Serif', serif" fill="#22b14c" font-weight="normal" stroke="#22b14c" stroke-width="0.7" textLength="129.2" lengthAdjust="spacing">UPTREND</text>
<text x="1036.1" y="94.5" font-size="24.8" font-family="'Liberation Serif', 'DejaVu Serif', serif" fill="#000" font-weight="bold" textLength="132.0" lengthAdjust="spacing">with MACD</text>
<text x="729.2" y="121.7" font-size="24.8" font-weight="bold" font-family="'Liberation Serif', 'DejaVu Serif', serif" style="white-space:pre" textLength="459" lengthAdjust="spacing"><tspan fill="#000">curling up.   Continue to stay long vs stops</tspan></text>
<text x="729.2" y="148.9" font-size="24.8" font-weight="bold" font-family="'Liberation Serif', 'DejaVu Serif', serif" style="white-space:pre" textLength="467" lengthAdjust="spacing"><tspan fill="#000">(from our Daily Focus List), and selectively</tspan></text>
<text x="729.2" y="175.9" font-size="24.8" font-weight="bold" font-family="'Liberation Serif', 'DejaVu Serif', serif" style="white-space:pre" textLength="461" lengthAdjust="spacing"><tspan fill="#000">add more long market exposure  that meets</tspan></text>
<text x="729.2" y="202.9" font-size="24.8" font-weight="bold" font-family="'Liberation Serif', 'DejaVu Serif', serif" style="white-space:pre" textLength="173" lengthAdjust="spacing"><tspan fill="#000">your risk profile</tspan></text>
<rect x="911" y="199" width="251" height="99" fill="#ffffff" />
<rect x="918.4" y="201.4" width="233.4" height="89.2" fill="#fff" stroke="#000" stroke-width="2.6"/>
<rect x="923.5" y="205" width="223" height="81.5" fill="none" stroke="#000" stroke-width="1"/>
<text x="932" y="254.2" font-size="14" font-weight="bold" font-family="'DejaVu Serif', 'Liberation Serif', serif" fill="#1a1a1a" textLength="197" lengthAdjust="spacingAndGlyphs">Fitzstock Charts</text>
<rect x="972" y="256.8" width="118" height="2" fill="#000" />
<text x="963.5" y="274.6" font-size="12" font-weight="bold" font-family="'DejaVu Sans', 'Liberation Sans', sans-serif" fill="#0a0a14" textLength="134" lengthAdjust="spacingAndGlyphs">www.fitzstock.com</text>
<rect x="1023.5" y="225" width="3.6" height="10.5" fill="none" stroke="#56a83a" stroke-width="1" transform="skewY(-8)" style="transform-origin:1023px 225px"/>
<rect x="1028.0" y="223" width="3.6" height="10.5" fill="none" stroke="#56a83a" stroke-width="1" transform="skewY(-8)" style="transform-origin:1027.5px 223px"/>
<rect x="1032.5" y="221" width="3.6" height="10.5" fill="none" stroke="#56a83a" stroke-width="1" transform="skewY(-8)" style="transform-origin:1032px 221px"/>
<rect x="1042.5" y="220" width="3.6" height="10.5" fill="none" stroke="#c0363a" stroke-width="1" transform="skewY(8)" style="transform-origin:1042px 220px"/>
<rect x="1047.0" y="222" width="3.6" height="10.5" fill="none" stroke="#c0363a" stroke-width="1" transform="skewY(8)" style="transform-origin:1046.5px 222px"/>
<rect x="1051.5" y="224" width="3.6" height="10.5" fill="none" stroke="#c0363a" stroke-width="1" transform="skewY(8)" style="transform-origin:1051px 224px"/>
<line x1="1023.5" y1="226" x2="1023.5" y2="237" stroke="#56a83a" stroke-width="1" />
<line x1="1036" y1="219" x2="1036" y2="229" stroke="#56a83a" stroke-width="1" />
<line x1="1042.5" y1="219" x2="1042.5" y2="229" stroke="#c0363a" stroke-width="1" />
<line x1="1055" y1="226" x2="1055" y2="237" stroke="#c0363a" stroke-width="1" />
<rect x="957" y="970" width="963" height="2" fill="#e1e1e1" />
</svg>
</body></html>
